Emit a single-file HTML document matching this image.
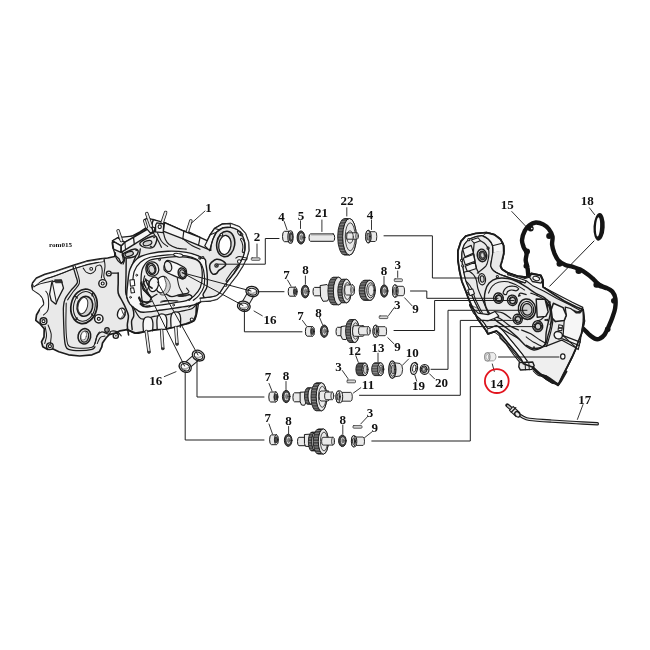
<!DOCTYPE html>
<html><head><meta charset="utf-8"><title>Cam gear exploded view</title>
<style>
html,body{margin:0;padding:0;background:#fff;}
svg{display:block;will-change:transform;}
text{font-family:"Liberation Serif",serif;font-weight:bold;fill:#111;}
</style></head><body>
<svg width="650" height="650" viewBox="0 0 650 650" stroke-linecap="round" stroke-linejoin="round">
<rect width="650" height="650" fill="#fff"/>
<path d="M31.9 285.8 L32.7 282.7 L36.5 278.0 L45.0 274.2 L55.8 271.2 L74.2 265.0 L86.5 261.2 L100.4 258.8 L107.7 258.0 L114.6 256.5 L115.4 252.7 L113.0 248.0 L112.3 242.7 L113.8 240.4 L119.2 238.8 L123.0 239.6 L133.0 235.8 L140.0 232.0 L146.0 228.0 L149.2 225.0 L153.0 219.6 L161.5 223.5 L164.6 222.7 L183.8 231.2 L188.5 232.0 L200.0 237.5 L204.8 245.8 L210.3 234.7 L214.6 228.5 L222.0 224.2 L230.6 223.6 L239.2 226.7 L245.4 233.5 L248.5 242.0 L248.8 250.7 L246.6 258.0 L243.0 265.5 L236.8 275.3 L230.6 283.3 L225.7 290.0 L221.5 295.4 L217.0 299.2 L210.8 300.8 L200.8 301.5 L196.5 305.0 L196.0 314.6 L193.8 320.8 L186.0 323.8 L167.7 328.5 L155.4 329.8 L144.6 331.5 L135.4 333.0 L127.0 329.6 L120.0 330.8 L115.4 333.0 L109.2 334.6 L106.0 338.0 L102.5 343.0 L101.8 346.8 L99.4 351.7 L92.0 354.8 L79.7 356.0 L68.6 354.8 L58.8 351.7 L52.6 348.8 L47.7 349.4 L42.8 346.8 L41.5 341.8 L44.0 337.0 L44.2 328.8 L40.4 324.2 L35.8 320.4 L36.5 315.0 L39.6 309.6 L44.2 304.2 L42.7 298.0 L39.6 294.2 L32.7 289.6Z" fill="#e9e9e9" stroke="#1c1c1c" stroke-width="1.6900000000000002"/>
<path d="M32.7 283.5 L36.5 278.5 L45.0 274.7 L55.8 271.6 L74.2 265.5 L86.5 261.6 L100.4 259.3 L104.2 258.5 L103.8 261.6 L98.5 262.5 L86.5 265.0 L73.9 268.7 L55.8 275.8 L46.5 278.8 L40.4 282.2 L34.5 287.2Z" fill="#fafafa" stroke="#1c1c1c" stroke-width="0.78"/>
<path d="M34.5 286.8 C35.5 286.0 38.4 283.3 40.4 281.9 C42.4 280.5 44.0 279.6 46.5 278.5 C49.1 277.5 51.2 277.2 55.8 275.5 C60.3 273.8 70.9 269.6 73.9 268.4" fill="none" stroke="#1c1c1c" stroke-width="1.04"/>
<path d="M76.5 268.1 C78.2 267.5 82.9 265.7 86.5 264.7 C90.2 263.7 96.5 262.6 98.5 262.2" fill="none" stroke="#1c1c1c" stroke-width="1.04"/>
<path d="M73.0 266.5 C73.5 268.1 75.1 273.1 75.8 275.8 C76.5 278.5 78.1 280.2 77.3 282.7 C76.5 285.2 72.9 287.9 70.8 290.7 C68.8 293.4 66.2 296.5 65.0 299.2 C63.8 301.8 63.7 304.3 63.5 306.5 C63.2 308.7 63.4 309.3 63.4 312.3 C63.4 315.3 63.6 320.5 63.7 324.6 C63.9 328.7 64.0 333.5 64.3 337.0 C64.6 340.5 64.8 343.4 65.5 345.5 C66.2 347.6 66.2 348.5 68.6 349.4 C71.0 350.3 75.8 350.7 79.7 350.7 C83.6 350.7 89.5 350.0 92.0 349.4 C94.5 348.8 94.5 347.2 95.0 346.8" fill="none" stroke="#1c1c1c" stroke-width="1.3"/>
<path d="M66.2 303.0 C66.2 306.6 65.8 318.5 65.9 324.6 C66.0 330.7 66.2 335.8 66.8 339.4 C67.3 343.0 67.0 344.7 69.2 346.2 C71.4 347.7 75.9 348.0 79.7 348.2 C83.5 348.4 89.5 348.1 92.0 347.2 C94.5 346.3 94.2 344.9 95.0 343.0 C95.8 341.1 96.3 337.5 97.0 335.7 C97.7 333.9 99.0 332.6 99.4 332.0" fill="none" stroke="#1c1c1c" stroke-width="1.04"/>
<path d="M75.2 266.1 C75.6 267.6 77.4 272.1 78.1 275.0 C78.8 277.9 80.1 280.7 79.3 283.5 C78.5 286.2 75.3 288.7 73.3 291.5 C71.4 294.2 68.6 298.5 67.6 299.9" fill="none" stroke="#1c1c1c" stroke-width="1.04"/>
<path d="M83.2 268.1 C83.7 268.7 84.9 271.2 86.2 272.1 C87.6 273.0 89.7 273.9 91.2 273.6 C92.6 273.4 94.3 271.7 95.2 270.5 C96.0 269.4 95.2 267.4 96.1 266.5 C96.9 265.7 99.4 264.7 100.4 265.3 C101.4 265.9 102.1 268.3 102.2 270.4 C102.4 272.5 101.5 276.8 101.3 278.1" fill="none" stroke="#1c1c1c" stroke-width="1.04"/>
<path d="M104.2 259.6 C104.4 260.8 105.1 263.8 105.0 266.5 C104.9 269.2 103.8 273.6 103.8 275.8 C103.8 277.9 104.8 279.0 105.0 279.6" fill="none" stroke="#1c1c1c" stroke-width="1.04"/>
<ellipse cx="91.2" cy="268.8" rx="1.4" ry="1.4" fill="#fff" stroke="#1c1c1c" stroke-width="1.04"/>
<ellipse cx="102.7" cy="283.5" rx="3.9" ry="3.9" fill="#f8f8f8" stroke="#1c1c1c" stroke-width="1.4300000000000002"/>
<ellipse cx="102.7" cy="283.5" rx="1.5" ry="1.5" fill="#fff" stroke="#1c1c1c" stroke-width="1.1700000000000002"/>
<ellipse cx="108.8" cy="273.5" rx="2.4" ry="2.4" fill="#f8f8f8" stroke="#1c1c1c" stroke-width="1.4300000000000002"/>
<ellipse cx="108.8" cy="273.5" rx="0.5" ry="0.5" fill="#333" stroke="#1c1c1c" stroke-width="0.39"/>
<ellipse cx="42.0" cy="288.0" rx="3.4" ry="3.4" fill="#f8f8f8" stroke="#1c1c1c" stroke-width="1.4300000000000002"/>
<ellipse cx="42.0" cy="288.0" rx="1.5" ry="1.5" fill="#fff" stroke="#1c1c1c" stroke-width="1.1700000000000002"/>
<ellipse cx="43.5" cy="321.2" rx="3.4" ry="3.4" fill="#f8f8f8" stroke="#1c1c1c" stroke-width="1.4300000000000002"/>
<ellipse cx="43.5" cy="321.2" rx="1.5" ry="1.5" fill="#fff" stroke="#1c1c1c" stroke-width="1.1700000000000002"/>
<ellipse cx="98.8" cy="318.8" rx="4.2" ry="4.2" fill="#f8f8f8" stroke="#1c1c1c" stroke-width="1.4300000000000002"/>
<ellipse cx="98.8" cy="318.8" rx="1.5" ry="1.5" fill="#fff" stroke="#1c1c1c" stroke-width="1.1700000000000002"/>
<ellipse cx="115.8" cy="335.8" rx="2.6" ry="2.6" fill="#f8f8f8" stroke="#1c1c1c" stroke-width="1.4300000000000002"/>
<ellipse cx="115.8" cy="335.8" rx="0.5" ry="0.5" fill="#333" stroke="#1c1c1c" stroke-width="0.39"/>
<ellipse cx="49.9" cy="346.2" rx="3.3" ry="3.3" fill="#f8f8f8" stroke="#1c1c1c" stroke-width="1.4300000000000002"/>
<ellipse cx="49.9" cy="346.2" rx="1.5" ry="1.5" fill="#fff" stroke="#1c1c1c" stroke-width="1.1700000000000002"/>
<ellipse cx="107.0" cy="330.0" rx="2.2" ry="2.2" fill="#f8f8f8" stroke="#1c1c1c" stroke-width="1.4300000000000002"/>
<ellipse cx="107.0" cy="330.0" rx="0.5" ry="0.5" fill="#333" stroke="#1c1c1c" stroke-width="0.39"/>
<ellipse cx="42.0" cy="288.0" rx="1.5" ry="1.6" fill="#444" stroke="#1c1c1c" stroke-width="0.65"/>
<path d="M34.5 287.2 C35.8 286.0 38.1 283.5 40.4 282.5 C42.6 281.6 46.3 281.4 48.1 281.6 C49.8 281.8 50.6 281.7 50.8 283.8 C51.1 285.9 49.5 291.3 49.6 294.2 C49.7 297.1 51.7 298.6 51.5 301.2 C51.2 303.7 49.4 307.3 48.1 309.6 C46.7 311.9 44.8 315.0 43.5 315.0 C42.1 315.0 39.9 311.4 40.1 309.6 C40.2 307.8 43.8 306.2 44.2 304.2 C44.7 302.3 43.5 299.7 42.7 298.1 C41.9 296.4 41.2 295.6 39.6 294.2 C38.0 292.8 33.8 290.8 33.0 289.6 C32.2 288.4 33.3 288.3 34.5 287.2Z" fill="#f5f5f5" stroke="none"/>
<path d="M51.9 281.9 L61.2 280.1 L63.5 288.1 L58.1 298.8 L55.8 304.2 L51.2 300.4 L49.6 294.2Z" fill="#f6f6f6" stroke="#1c1c1c" stroke-width="1.3"/>
<path d="M55.0 279.8 L61.6 279.8 L62.4 282.7 L55.8 282.8Z" fill="#333" stroke="#1c1c1c" stroke-width="0.78"/>
<path d="M52.4 282.7 L56.5 303.2" fill="none" stroke="#1c1c1c" stroke-width="1.04" />
<path d="M34.2 286.5 C35.0 286.2 36.5 285.0 38.8 284.2 C41.2 283.5 45.8 282.5 48.1 281.9 C50.4 281.3 51.9 280.9 52.7 280.7" fill="none" stroke="#1c1c1c" stroke-width="1.04"/>
<path d="M45.8 291.2 C46.2 291.9 47.7 292.7 48.1 295.8 C48.5 298.8 48.8 306.4 48.1 309.6 C47.3 312.8 44.2 314.1 43.5 315.0" fill="none" stroke="#1c1c1c" stroke-width="1.04"/>
<path d="M48.1 325.0 C48.6 326.5 50.8 331.2 51.2 334.2 C51.5 337.3 50.5 341.9 50.4 343.5" fill="none" stroke="#1c1c1c" stroke-width="1.04"/>
<path d="M45.0 326.5 C45.3 328.1 46.6 332.9 46.5 335.8 C46.5 338.6 45.0 342.2 44.7 343.5" fill="none" stroke="#1c1c1c" stroke-width="1.04"/>
<ellipse cx="84.0" cy="306.3" rx="13.0" ry="17.4" fill="#e9e9e9" stroke="#1c1c1c" stroke-width="1.6900000000000002" transform="rotate(12 84.0 306.3)"/>
<ellipse cx="84.3" cy="306.4" rx="10.7" ry="15.0" fill="#e9e9e9" stroke="#1c1c1c" stroke-width="1.04" transform="rotate(12 84.3 306.4)"/>
<path d="M75.8 296.5 L77.2 298.0" fill="none" stroke="#1c1c1c" stroke-width="1.56" />
<path d="M92.5 293.5 L92.2 295.8" fill="none" stroke="#1c1c1c" stroke-width="1.56" />
<path d="M92.8 315.5 L91.6 314.0" fill="none" stroke="#1c1c1c" stroke-width="1.56" />
<path d="M76.0 319.5 L77.0 318.0" fill="none" stroke="#1c1c1c" stroke-width="1.56" />
<ellipse cx="84.9" cy="306.3" rx="7.7" ry="10.1" fill="#d2d2d2" stroke="#1c1c1c" stroke-width="1.56" transform="rotate(12 84.9 306.3)"/>
<ellipse cx="82.9" cy="305.6" rx="4.7" ry="8.3" fill="#fff" stroke="#333" stroke-width="1.04" transform="rotate(14 82.9 305.6)"/>
<ellipse cx="84.4" cy="336.3" rx="6.3" ry="7.7" fill="#e9e9e9" stroke="#1c1c1c" stroke-width="1.56" transform="rotate(12 84.4 336.3)"/>
<ellipse cx="84.7" cy="336.6" rx="3.9" ry="5.6" fill="#d2d2d2" stroke="#1c1c1c" stroke-width="1.3" transform="rotate(12 84.7 336.6)"/>
<ellipse cx="83.7" cy="335.8" rx="2.7" ry="4.4" fill="#fff" stroke="#555" stroke-width="0.65" transform="rotate(12 83.7 335.8)"/>
<path d="M95.0 343.5 C95.4 342.2 96.2 337.7 97.3 335.8 C98.5 333.8 100.0 332.2 101.9 331.9 C103.8 331.7 107.3 334.4 108.8 334.2 C110.4 334.1 109.7 331.5 111.2 331.2 C112.6 330.8 115.6 331.2 117.3 331.9 C119.0 332.7 120.5 335.1 121.2 335.8" fill="none" stroke="#1c1c1c" stroke-width="1.1700000000000002"/>
<path d="M97.3 343.5 C97.8 342.4 99.1 338.5 100.4 337.3 C101.7 336.1 104.2 336.3 105.0 336.1" fill="none" stroke="#1c1c1c" stroke-width="1.04"/>
<ellipse cx="121.4" cy="313.5" rx="3.8" ry="5.4" fill="#fff" stroke="#1c1c1c" stroke-width="1.4300000000000002" transform="rotate(15 121.4 313.5)"/>
<path d="M120.5 318.6 Q124.8 317.5 125 311.5 Q123.5 315.5 120.5 318.6Z" fill="#c8c8c8" stroke="#333" stroke-width="0.6"/>
<path d="M121.6 309.6 C121.9 310.4 122.9 313.3 123.5 314.2 C124.0 315.1 124.7 314.9 125.0 315.0" fill="none" stroke="#1c1c1c" stroke-width="0.9099999999999999"/>
<path d="M112.2 273.1 L118.2 273.1" fill="none" stroke="#1c1c1c" stroke-width="1.3" />
<path d="M118.2 273.1 C118.2 274.8 118.2 280.0 118.2 283.3 C118.2 286.6 117.5 290.1 118.2 293.0 C118.8 295.9 120.8 298.2 121.9 300.5 C123.1 302.9 124.1 304.5 125.2 307.0 C126.2 309.5 128.0 312.6 128.4 315.6 C128.7 318.7 127.3 322.1 127.3 325.3 C127.3 328.5 128.4 333.4 128.6 335.0" fill="none" stroke="#1c1c1c" stroke-width="1.56"/>
<path d="M126.2 256.4 C126.2 259.6 126.1 269.8 126.0 275.8 C125.9 281.7 125.5 288.5 125.7 291.9 C125.9 295.3 126.1 293.5 127.3 296.2 C128.5 298.9 131.6 304.8 132.7 308.1 C133.8 311.3 133.9 313.5 133.8 315.6 C133.6 317.8 131.9 318.7 131.6 321.0 C131.3 323.3 132.1 328.2 132.2 329.6" fill="none" stroke="#1c1c1c" stroke-width="1.4300000000000002"/>
<path d="M126.8 293.5 C127.4 293.0 129.4 293.4 130.5 294.1 C131.7 294.7 133.4 296.2 133.8 297.3 C134.1 298.4 133.5 300.0 132.7 300.5 C131.9 301.1 129.9 301.1 128.9 300.5 C127.9 300.0 127.1 298.5 126.8 297.3 C126.4 296.1 126.1 294.1 126.8 293.5Z" fill="#e9e9e9" stroke="#1c1c1c" stroke-width="1.3"/>
<ellipse cx="130.5" cy="297.3" rx="1.3" ry="1.3" fill="#fff" stroke="#1c1c1c" stroke-width="1.1700000000000002"/>
<ellipse cx="127.3" cy="294.3" rx="1.0" ry="1.0" fill="#222" stroke="#1c1c1c" stroke-width="0.39"/>
<path d="M112.5 240.8 L113.6 249.2 L115.2 255.6 L119.0 258.8 L121.2 263.7 L123.5 261.0 L122.2 252.6 L121.2 245.9Z" fill="#e9e9e9" stroke="#1c1c1c" stroke-width="1.3"/>
<path d="M112.5 240.8 L117.7 237.6 L124.9 242.2 L121.2 245.9Z" fill="#f7f7f7" stroke="#1c1c1c" stroke-width="1.3"/>
<path d="M112.5 241.0 L121.2 245.9 L120.9 252.4 L113.6 249.2Z" fill="#f7f7f7" stroke="#1c1c1c" stroke-width="1.3"/>
<path d="M117.7 237.6 L131.9 236.2 L141.6 232.5 L151.3 226.1 L155.6 224.9 L152.4 226.5 L133.5 237.3 L124.9 242.2Z" fill="#f7f7f7" stroke="#1c1c1c" stroke-width="1.1700000000000002"/>
<path d="M124.9 242.2 L133.5 237.3 L152.4 226.5 L155.6 224.9 L154.3 231.9 L151.3 233.5 L134.1 244.3 L121.2 252.4 L121.2 245.9Z" fill="#f7f7f7" stroke="#1c1c1c" stroke-width="1.4300000000000002"/>
<path d="M133.5 237.3 L134.3 244.2" fill="none" stroke="#1c1c1c" stroke-width="1.3" />
<path d="M150.8 227.6 L152.9 233.0" fill="none" stroke="#1c1c1c" stroke-width="1.3" />
<path d="M124.9 242.2 L125.5 249.7" fill="none" stroke="#1c1c1c" stroke-width="1.04" />
<path d="M153.1 219.6 L164.6 222.7 L183.8 231.2 L200.0 237.3 L210.8 242.4 L210.8 250.4 L200.0 245.8 L183.1 238.8 L163.1 231.2 L151.5 226.5Z" fill="#f7f7f7" stroke="#1c1c1c" stroke-width="1.3"/>
<path d="M164.6 222.7 L163.4 231.3" fill="none" stroke="#1c1c1c" stroke-width="1.1700000000000002" />
<path d="M183.8 231.2 L182.8 238.8" fill="none" stroke="#1c1c1c" stroke-width="1.1700000000000002" />
<path d="M200.0 237.5 L198.5 245.3" fill="none" stroke="#1c1c1c" stroke-width="1.1700000000000002" />
<path d="M144.3 219.6 L147.7 218.1 L153.1 219.6 L151.5 226.5 L153.1 231.2 L150.8 233.5 L146.2 228.1Z" fill="#e9e9e9" stroke="#1c1c1c" stroke-width="1.1700000000000002"/>
<path d="M151.5 226.5 C151.9 227.7 152.7 231.0 153.8 233.5 C155.0 235.9 157.2 238.8 158.5 241.2 C159.7 243.5 161.0 246.3 161.5 247.3" fill="none" stroke="#1c1c1c" stroke-width="1.1700000000000002"/>
<path d="M163.1 231.2 C163.5 232.6 164.4 237.4 165.4 239.6 C166.4 241.8 167.3 243.1 169.2 244.5 C171.2 245.9 174.1 247.3 176.9 248.1 C179.7 248.8 184.6 249.0 186.2 249.2" fill="none" stroke="#1c1c1c" stroke-width="1.1700000000000002"/>
<path d="M183.1 238.8 C184.6 240.0 189.5 244.1 192.3 245.8 C195.1 247.5 198.7 248.6 200.0 249.2" fill="none" stroke="#1c1c1c" stroke-width="1.1700000000000002"/>
<path d="M155.4 228.1 C156.4 230.3 159.5 238.1 161.5 241.2 C163.6 244.2 166.7 245.6 167.7 246.5" fill="none" stroke="#1c1c1c" stroke-width="1.04"/>
<path d="M140.5 242.2 C142.2 240.4 149.8 237.1 152.4 236.2 C155.0 235.3 155.4 236.1 156.2 236.8 C156.9 237.5 157.1 238.9 156.7 240.5 C156.3 242.2 155.1 245.2 154.0 246.5 C152.9 247.7 152.2 248.1 150.2 248.1 C148.3 248.1 143.8 247.4 142.2 246.5 C140.5 245.5 138.8 243.9 140.5 242.2Z" fill="#e9e9e9" stroke="#1c1c1c" stroke-width="1.4300000000000002"/>
<ellipse cx="147.5" cy="243.2" rx="4.5" ry="2.4" fill="#d2d2d2" stroke="#1c1c1c" stroke-width="1.1700000000000002" transform="rotate(-16 147.5 243.2)"/>
<path d="M122.8 254.0 C124.1 252.6 131.0 249.8 133.5 249.2 C136.1 248.5 137.2 249.4 137.8 250.2 C138.5 251.0 137.9 252.9 137.3 254.0 C136.7 255.1 136.1 256.1 134.1 256.7 C132.1 257.3 127.3 258.2 125.5 257.8 C123.6 257.3 121.4 255.4 122.8 254.0Z" fill="#e9e9e9" stroke="#1c1c1c" stroke-width="1.4300000000000002"/>
<ellipse cx="129.2" cy="254.0" rx="4.3" ry="2.2" fill="#d2d2d2" stroke="#1c1c1c" stroke-width="1.1700000000000002" transform="rotate(-16 129.2 254.0)"/>
<ellipse cx="154.0" cy="237.5" rx="0.7" ry="0.7" fill="#222" stroke="#1c1c1c" stroke-width="0.39"/>
<ellipse cx="150.8" cy="246.5" rx="0.7" ry="0.7" fill="#222" stroke="#1c1c1c" stroke-width="0.39"/>
<ellipse cx="136.2" cy="250.2" rx="0.7" ry="0.7" fill="#222" stroke="#1c1c1c" stroke-width="0.39"/>
<path d="M115.4 252.7 C115.5 253.6 115.4 256.4 116.2 258.1 C116.9 259.7 118.8 262.1 120.0 262.7 C121.2 263.3 122.6 262.1 123.1 261.9" fill="none" stroke="#1c1c1c" stroke-width="1.1700000000000002"/>
<path d="M123.1 254.2 C123.3 255.1 124.6 257.9 124.6 259.6 C124.6 261.3 123.3 263.5 123.1 264.2" fill="none" stroke="#1c1c1c" stroke-width="1.1700000000000002"/>
<path d="M135.7 256.5 C135.3 257.6 134.0 260.1 133.1 262.7 C132.1 265.3 130.6 268.8 130.0 271.9 C129.4 275.0 129.1 278.6 129.2 281.2 C129.4 283.7 130.5 286.3 130.8 287.3" fill="none" stroke="#1c1c1c" stroke-width="1.3"/>
<path d="M140.3 248.8 C140.1 249.9 139.9 252.7 139.2 255.0 C138.5 257.3 137.0 259.4 136.2 262.7 C135.3 266.0 134.4 271.2 134.2 275.0 C133.9 278.8 134.5 284.0 134.6 285.8" fill="none" stroke="#1c1c1c" stroke-width="1.3"/>
<path d="M118.1 230.8 L121.4 240.5" stroke="#1c1c1c" stroke-width="3.5" stroke-linecap="round" fill="none"/>
<path d="M118.1 230.8 L121.4 240.5" stroke="#e9e9e9" stroke-width="1.9" stroke-linecap="round" fill="none"/>
<path d="M146.8 213.6 L151.1 226.0" stroke="#1c1c1c" stroke-width="3.5" stroke-linecap="round" fill="none"/>
<path d="M146.8 213.6 L151.1 226.0" stroke="#e9e9e9" stroke-width="1.9" stroke-linecap="round" fill="none"/>
<path d="M165.6 212.5 L162.3 222.2" stroke="#1c1c1c" stroke-width="3.5" stroke-linecap="round" fill="none"/>
<path d="M165.6 212.5 L162.3 222.2" stroke="#e9e9e9" stroke-width="1.9" stroke-linecap="round" fill="none"/>
<path d="M190.8 221.0 L187.6 231.0" stroke="#1c1c1c" stroke-width="3.5" stroke-linecap="round" fill="none"/>
<path d="M190.8 221.0 L187.6 231.0" stroke="#e9e9e9" stroke-width="1.9" stroke-linecap="round" fill="none"/>
<path d="M144.5 220.6 L146.5 227.1" stroke="#1c1c1c" stroke-width="3.0" stroke-linecap="round" fill="none"/>
<path d="M144.5 220.6 L146.5 227.1" stroke="#e9e9e9" stroke-width="1.4" stroke-linecap="round" fill="none"/>
<path d="M155.6 225.0 L156.9 222.9 L163.7 224.0 L163.2 232.6 L155.6 231.9Z" fill="#f7f7f7" stroke="#1c1c1c" stroke-width="1.3"/>
<ellipse cx="159.7" cy="226.8" rx="1.6" ry="1.9" fill="#fff" stroke="#1c1c1c" stroke-width="1.1700000000000002"/>
<path d="M127.5 285.6 C128.0 281.1 128.3 274.1 129.9 269.6 C131.6 265.1 134.0 261.2 137.3 258.5 C140.6 255.9 144.5 254.8 149.6 253.6 C154.7 252.4 161.9 251.4 168.1 251.2 C174.2 250.9 181.4 251.6 186.5 252.4 C191.7 253.2 195.8 254.9 198.8 256.1 C201.9 257.2 203.8 257.9 205.0 259.2 C206.2 260.4 205.5 261.3 205.8 263.8 C206.2 266.4 207.1 270.8 207.2 274.6 C207.4 278.5 207.6 283.6 206.9 286.9 C206.2 290.2 203.6 292.3 203.1 294.3 C202.6 296.3 205.3 297.4 203.8 299.2 C202.2 300.9 197.8 303.6 193.9 304.9 C190.0 306.3 185.7 306.3 180.4 307.2 C175.1 308.0 168.1 309.1 161.9 310.0 C155.8 310.8 147.6 312.3 143.5 312.3 C139.4 312.4 139.6 311.6 137.3 310.2 C135.1 308.9 131.7 306.3 129.9 304.1 C128.2 301.8 127.3 299.8 126.8 296.7 C126.4 293.6 126.9 290.1 127.5 285.6Z" fill="#f8f8f8" stroke="#1c1c1c" stroke-width="1.4300000000000002"/>
<path d="M132.4 285.6 C132.7 283.3 132.9 275.4 134.2 271.5 C135.6 267.6 137.7 264.6 140.4 262.2 C143.1 259.9 145.6 258.5 150.2 257.3 C154.8 256.1 162.1 255.1 168.1 254.8 C174.0 254.6 181.1 255.1 185.9 255.8 C190.7 256.6 194.3 257.9 197.0 259.5 C199.7 261.1 200.7 262.6 201.9 265.3 C203.2 268.0 204.1 272.2 204.4 275.8 C204.7 279.4 204.7 283.6 203.8 286.8 C202.8 290.1 200.6 293.2 198.8 295.5 C197.1 297.7 194.2 299.6 193.3 300.4" fill="none" stroke="#1c1c1c" stroke-width="1.1700000000000002"/>
<path d="M141.0 281.9 C141.1 277.4 141.0 273.1 142.2 269.6 C143.5 266.1 145.5 262.9 148.4 261.0 C151.3 259.1 154.7 259.0 159.5 258.3 C164.2 257.6 170.9 256.6 176.7 256.7 C182.4 256.8 190.0 257.7 193.9 258.8 C197.9 259.9 198.9 260.6 200.3 263.5 C201.7 266.3 202.3 271.8 202.3 275.8 C202.3 279.8 201.7 284.1 200.3 287.5 C198.9 290.8 196.2 293.9 193.9 296.1 C191.6 298.3 189.8 299.5 186.5 300.6 C183.3 301.8 179.4 302.0 174.2 302.8 C169.1 303.7 160.7 304.9 155.8 305.6 C150.8 306.2 147.1 308.0 144.7 306.5 C142.3 305.1 142.2 300.8 141.6 296.7 C141.0 292.6 140.9 286.4 141.0 281.9Z" fill="#ececec" stroke="#1c1c1c" stroke-width="1.3"/>
<ellipse cx="136.7" cy="275.2" rx="0.9" ry="0.9" fill="#fff" stroke="#1c1c1c" stroke-width="0.9099999999999999"/>
<ellipse cx="159.5" cy="259.8" rx="0.9" ry="0.9" fill="#fff" stroke="#1c1c1c" stroke-width="0.9099999999999999"/>
<ellipse cx="176.7" cy="254.6" rx="0.9" ry="0.9" fill="#fff" stroke="#1c1c1c" stroke-width="0.9099999999999999"/>
<ellipse cx="200.1" cy="258.3" rx="0.9" ry="0.9" fill="#fff" stroke="#1c1c1c" stroke-width="0.9099999999999999"/>
<ellipse cx="130.5" cy="297.3" rx="0.9" ry="0.9" fill="#fff" stroke="#1c1c1c" stroke-width="0.9099999999999999"/>
<ellipse cx="173.6" cy="305.1" rx="0.9" ry="0.9" fill="#fff" stroke="#1c1c1c" stroke-width="0.9099999999999999"/>
<ellipse cx="189.0" cy="306.5" rx="0.9" ry="0.9" fill="#fff" stroke="#1c1c1c" stroke-width="0.9099999999999999"/>
<ellipse cx="201.9" cy="299.2" rx="0.9" ry="0.9" fill="#fff" stroke="#1c1c1c" stroke-width="0.9099999999999999"/>
<path d="M173.6 254.2 C173.9 253.7 176.4 253.2 177.9 253.4 C179.5 253.5 182.3 254.5 182.8 255.1 C183.4 255.7 182.1 256.9 181.0 257.1 C179.9 257.3 177.3 256.8 176.1 256.3 C174.8 255.9 173.3 254.7 173.6 254.2Z" fill="#fff" stroke="#1c1c1c" stroke-width="1.04"/>
<path d="M129.9 280.1 L134.2 279.5 L134.8 285.6 L130.5 286.2Z" fill="#fff" stroke="#1c1c1c" stroke-width="1.04"/>
<path d="M130.5 288.1 L133.6 287.8 L134.6 292.4 L131.2 293.0Z" fill="#fff" stroke="#1c1c1c" stroke-width="1.04"/>
<path d="M166.2 261.2 C167.2 260.3 166.9 259.8 169.9 260.8 C172.9 261.7 181.3 265.4 184.1 267.2 C186.8 268.9 186.3 269.8 186.5 271.5 C186.8 273.1 186.5 276.1 185.6 277.2 C184.6 278.4 184.3 279.4 181.0 278.5 C177.7 277.5 168.4 273.5 165.6 271.5 C162.8 269.5 164.0 268.2 164.1 266.5 C164.2 264.8 165.3 262.2 166.2 261.2Z" fill="#f7f7f7" stroke="#1c1c1c" stroke-width="1.3"/>
<ellipse cx="168.1" cy="266.5" rx="3.5" ry="5.2" fill="#e9e9e9" stroke="#1c1c1c" stroke-width="1.3" transform="rotate(-15 168.1 266.5)"/>
<ellipse cx="182.2" cy="273.3" rx="3.9" ry="5.4" fill="#e9e9e9" stroke="#1c1c1c" stroke-width="1.56" transform="rotate(-15 182.2 273.3)"/>
<ellipse cx="182.5" cy="273.6" rx="2.6" ry="3.9" fill="#cfcfcf" stroke="#1c1c1c" stroke-width="1.04" transform="rotate(-15 182.5 273.6)"/>
<path d="M147.8 263.5 C149.1 262.2 152.2 261.7 153.9 262.2 C155.7 262.7 157.6 264.8 158.2 266.5 C158.9 268.3 158.7 271.2 158.0 272.7 C157.3 274.2 155.5 275.4 153.9 275.8 C152.3 276.2 149.7 276.2 148.4 275.2 C147.1 274.1 146.0 271.6 145.9 269.6 C145.8 267.7 146.4 264.7 147.8 263.5Z" fill="#f7f7f7" stroke="#1c1c1c" stroke-width="1.3"/>
<ellipse cx="151.5" cy="269.0" rx="4.3" ry="5.6" fill="#e9e9e9" stroke="#1c1c1c" stroke-width="1.4300000000000002" transform="rotate(-15 151.5 269.0)"/>
<ellipse cx="151.8" cy="269.4" rx="2.9" ry="4.1" fill="#d8d8d8" stroke="#1c1c1c" stroke-width="1.04" transform="rotate(-15 151.8 269.4)"/>
<ellipse cx="161.9" cy="284.6" rx="6.0" ry="8.4" fill="#fff" stroke="#1c1c1c" stroke-width="1.3" transform="rotate(14 161.9 284.6)"/>
<path d="M164.4 277.2 C164.7 276.5 167.3 278.7 168.3 280.1 C169.3 281.5 170.2 283.8 170.3 285.6 C170.4 287.5 169.6 289.6 168.7 291.2 C167.8 292.7 166.4 294.3 165.0 294.8 C163.6 295.4 160.2 294.9 160.1 294.2 C160.0 293.5 163.4 292.2 164.4 290.5 C165.4 288.9 166.2 286.6 166.2 284.4 C166.2 282.2 164.0 278.0 164.4 277.2Z" fill="#cfcfcf" stroke="#333" stroke-width="0.8"/>
<ellipse cx="153.6" cy="284.4" rx="4.8" ry="7.4" fill="#f4f4f4" stroke="#1c1c1c" stroke-width="1.3" transform="rotate(14 153.6 284.4)"/>
<ellipse cx="145.9" cy="285.6" rx="3.0" ry="5.5" fill="none" stroke="#1c1c1c" stroke-width="1.1700000000000002" transform="rotate(14 145.9 285.6)"/>
<path d="M141.6 281.9 C141.9 283.2 142.4 287.3 143.5 289.3 C144.5 291.4 146.4 292.8 147.8 294.2 C149.1 295.7 150.8 297.3 151.5 297.9" fill="none" stroke="#1c1c1c" stroke-width="1.1700000000000002"/>
<path d="M138.5 297.9 C139.2 298.9 140.6 303.3 142.2 304.1 C143.9 304.9 146.8 303.9 148.4 302.8 C149.9 301.8 150.0 299.4 151.5 297.9 C152.9 296.5 156.1 294.8 157.0 294.2" fill="none" stroke="#1c1c1c" stroke-width="1.1700000000000002"/>
<path d="M166.2 294.2 C167.2 294.6 169.6 296.6 171.8 296.7 C173.9 296.8 176.7 295.4 179.2 294.8 C181.6 294.3 184.4 293.3 186.5 293.6 C188.7 293.9 191.7 295.6 192.1 296.7 C192.5 297.8 189.5 299.8 189.0 300.4" fill="none" stroke="#1c1c1c" stroke-width="1.3"/>
<path d="M160.7 302.2 C161.9 302.0 165.2 300.8 168.1 300.6 C170.9 300.4 176.3 300.9 177.9 301.0" fill="none" stroke="#1c1c1c" stroke-width="1.1700000000000002"/>
<path d="M186.5 288.1 C186.9 288.7 189.0 290.8 189.0 291.8 C189.0 292.7 186.9 293.3 186.5 293.6" fill="none" stroke="#1c1c1c" stroke-width="1.04"/>
<path d="M177.3 278.2 C177.6 279.7 178.2 284.3 179.2 286.8 C180.1 289.4 182.2 292.5 182.8 293.6" fill="none" stroke="#1c1c1c" stroke-width="1.04"/>
<path d="M144.7 275.8 C144.5 276.8 143.3 280.0 143.5 281.9 C143.7 283.9 145.5 286.5 145.9 287.5" fill="none" stroke="#1c1c1c" stroke-width="1.1700000000000002"/>
<path d="M141.3 283.3 C141.7 284.1 142.6 286.6 143.5 288.2 C144.4 289.7 145.4 290.9 146.7 292.5 C147.9 294.0 150.3 296.5 151.0 297.3" fill="none" stroke="#1c1c1c" stroke-width="2.08"/>
<path d="M139.2 297.3 C139.5 297.9 140.2 300.3 141.3 301.1 C142.4 301.9 144.0 302.1 145.6 302.2 C147.2 302.2 150.1 301.5 151.0 301.4" fill="none" stroke="#1c1c1c" stroke-width="1.8199999999999998"/>
<path d="M140.2 303.8 C140.9 304.2 142.4 306.1 144.0 306.5 C145.6 306.8 148.9 306.0 149.9 305.9" fill="none" stroke="#1c1c1c" stroke-width="1.56"/>
<path d="M145.6 279.0 C146.0 280.0 146.7 283.4 147.8 284.9 C148.8 286.4 151.4 287.6 152.1 288.2" fill="none" stroke="#1c1c1c" stroke-width="1.56"/>
<path d="M176.7 295.2 C177.3 294.7 180.8 294.0 182.8 294.0 C184.9 294.0 188.8 294.8 189.0 295.2 C189.2 295.7 185.7 296.4 184.1 296.7 C182.4 297.0 180.4 297.2 179.2 296.9 C177.9 296.7 176.1 295.7 176.7 295.2Z" fill="#2a2a2a" stroke="none"/>
<path d="M160.7 301.0 C160.9 300.7 164.2 300.1 165.6 300.0 C167.1 300.0 169.5 300.3 169.3 300.6 C169.1 300.9 165.8 301.8 164.4 301.9 C162.9 301.9 160.5 301.3 160.7 301.0Z" fill="#2a2a2a" stroke="none"/>
<path d="M142.2 286.8 C142.4 286.5 144.0 287.8 144.7 288.7 C145.4 289.6 146.7 292.1 146.5 292.4 C146.3 292.7 144.2 291.5 143.5 290.5 C142.7 289.6 142.0 287.2 142.2 286.8Z" fill="#2a2a2a" stroke="none"/>
<path d="M204.8 245.8 L210.3 234.7 L214.6 228.5 L222.0 224.2 L230.6 223.6 L230.6 227.3 L222.6 227.9 L216.5 232.2 L212.8 239.6 L209.7 250.7Z" fill="#f7f7f7" stroke="#1c1c1c" stroke-width="1.1700000000000002"/>
<path d="M230.6 223.6 L239.2 226.7 L245.4 233.5 L248.5 242.0 L248.8 250.7 L246.6 258.0 L243.0 265.5 L236.8 275.3 L230.6 283.3 L225.7 290.0 L221.5 295.4 L217.0 299.2 L210.8 300.8 L200.8 301.5 L200.0 298.2 L210.0 297.2 L216.2 295.7 L219.5 293.2 L223.2 287.6 L228.2 280.8 L233.7 273.5 L239.2 264.2 L242.9 257.5 L244.8 250.7 L244.8 242.7 L242.3 235.3 L237.4 229.8 L230.6 227.3Z" fill="#f9f9f9" stroke="#1c1c1c" stroke-width="0.65"/>
<path d="M209.7 250.7 C210.2 248.8 211.6 242.7 212.8 239.6 C213.9 236.5 214.8 234.2 216.5 232.2 C218.1 230.3 220.3 228.7 222.6 227.9 C225.0 227.1 228.2 227.0 230.6 227.3 C233.1 227.6 235.4 228.4 237.4 229.8 C239.3 231.1 241.1 233.2 242.3 235.3 C243.5 237.5 244.4 240.1 244.8 242.7 C245.2 245.3 245.1 248.2 244.8 250.7 C244.5 253.2 243.8 255.2 242.9 257.5 C242.0 259.7 240.8 261.6 239.2 264.2 C237.7 266.9 235.5 270.7 233.7 273.5 C231.8 276.2 229.9 278.5 228.2 280.8 C226.4 283.2 224.7 285.6 223.2 287.6 C221.8 289.7 220.7 291.8 219.5 293.2 C218.4 294.5 217.7 295.0 216.2 295.7 C214.6 296.4 212.7 296.8 210.0 297.2 C207.3 297.6 201.7 298.0 200.0 298.2" fill="none" stroke="#1c1c1c" stroke-width="1.1700000000000002"/>
<path d="M210.3 234.7 L216.5 232.2" fill="none" stroke="#1c1c1c" stroke-width="1.04" />
<path d="M214.6 228.5 L219.5 229.8" fill="none" stroke="#1c1c1c" stroke-width="1.04" />
<ellipse cx="225.7" cy="244.0" rx="9.0" ry="12.8" fill="#d6d6d6" stroke="#1c1c1c" stroke-width="1.56" transform="rotate(8 225.7 244.0)"/>
<ellipse cx="224.9" cy="245.0" rx="6.1" ry="9.6" fill="#fff" stroke="#1c1c1c" stroke-width="1.3" transform="rotate(8 224.9 245.0)"/>
<ellipse cx="221.4" cy="234.7" rx="1.3" ry="1.3" fill="#fff" stroke="#1c1c1c" stroke-width="1.04"/>
<ellipse cx="241.7" cy="234.7" rx="1.2" ry="1.2" fill="#fff" stroke="#1c1c1c" stroke-width="1.04"/>
<ellipse cx="239.2" cy="261.5" rx="1.7" ry="1.7" fill="#fff" stroke="#1c1c1c" stroke-width="1.04"/>
<ellipse cx="225.7" cy="285.2" rx="1.1" ry="1.1" fill="#fff" stroke="#1c1c1c" stroke-width="1.04"/>
<ellipse cx="202.9" cy="257.5" rx="1.0" ry="1.0" fill="#fff" stroke="#1c1c1c" stroke-width="1.04"/>
<ellipse cx="199.8" cy="258.1" rx="1.0" ry="1.0" fill="#fff" stroke="#1c1c1c" stroke-width="1.04"/>
<path d="M237.4 231.0 C237.8 230.7 239.7 231.0 240.5 231.6 C241.2 232.2 242.0 234.1 241.9 234.7 C241.8 235.3 240.5 235.5 239.8 235.3 C239.2 235.1 238.7 234.2 238.2 233.5 C237.8 232.7 237.0 231.3 237.4 231.0Z" fill="none" stroke="#1c1c1c" stroke-width="1.04"/>
<path d="M241.7 238.4 C242.3 238.7 243.6 240.0 244.2 241.5 C244.7 242.9 245.0 245.3 245.0 247.0 C245.0 248.7 244.6 251.1 244.2 251.9 C243.7 252.7 242.5 252.7 242.3 251.9 C242.1 251.1 243.0 248.6 242.9 247.0 C242.9 245.4 242.3 243.3 241.9 242.1 C241.5 240.8 240.5 240.2 240.5 239.6 C240.4 239.0 241.1 238.1 241.7 238.4Z" fill="none" stroke="#1c1c1c" stroke-width="1.04"/>
<path d="M237.4 265.7 C239.4 263.6 240.5 264.3 239.0 266.7 C237.5 269.1 230.5 278.1 228.4 280.2 C226.3 282.3 225.2 281.7 226.7 279.2 C228.2 276.8 235.3 267.8 237.4 265.7Z" fill="none" stroke="#1c1c1c" stroke-width="1.04"/>
<path d="M235.8 258.1 C236.4 257.8 237.8 256.7 239.2 256.6 C240.6 256.5 242.9 257.2 244.2 257.5 C245.4 257.7 246.6 257.9 246.9 258.3 C247.2 258.7 246.9 259.8 246.0 259.9 C245.1 260.1 242.4 259.4 241.7 259.3" fill="none" stroke="#1c1c1c" stroke-width="1.04"/>
<path d="M211.5 262.4 C212.7 261.4 214.5 259.5 216.5 259.3 C218.4 259.1 221.7 260.2 223.2 261.2 C224.8 262.1 225.8 263.7 225.7 264.8 C225.6 266.0 223.7 267.0 222.6 267.9 C221.5 268.8 219.9 269.5 218.9 270.4 C217.9 271.3 217.5 272.8 216.5 273.5 C215.4 274.1 213.8 274.6 212.8 274.1 C211.7 273.6 210.8 271.8 210.3 270.4 C209.8 268.9 209.5 266.8 209.7 265.5 C209.9 264.1 210.4 263.4 211.5 262.4Z" fill="#e9e9e9" stroke="#1c1c1c" stroke-width="1.56"/>
<ellipse cx="216.5" cy="265.5" rx="1.7" ry="1.7" fill="#fff" stroke="#1c1c1c" stroke-width="1.1700000000000002"/>
<ellipse cx="216.5" cy="265.5" rx="0.7" ry="0.7" fill="#444" stroke="#1c1c1c" stroke-width="0.39"/>
<path d="M133.1 306.9 C134.0 308.5 136.8 314.1 138.5 316.2 C140.1 318.2 140.3 319.2 143.1 319.2 C145.9 319.2 151.3 316.9 155.4 316.2 C159.5 315.4 163.6 315.4 167.7 314.6 C171.8 313.8 175.9 312.6 180.0 311.5 C184.1 310.5 189.5 309.9 192.3 308.5 C195.1 307.1 196.2 304.0 196.9 303.1" fill="none" stroke="#1c1c1c" stroke-width="1.1700000000000002"/>
<path d="M143.4 330.8 C143.3 329.5 142.9 325.2 143.1 323.1 C143.3 321.0 143.8 319.2 144.6 318.2 C145.4 317.1 146.9 316.9 148.0 316.9 C149.1 316.9 150.6 317.1 151.4 318.2 C152.2 319.2 152.7 321.0 152.9 323.1 C153.1 325.2 152.7 329.5 152.6 330.8" fill="#f7f7f7" stroke="#1c1c1c" stroke-width="1.3"/>
<path d="M157.2 329.2 C157.2 327.7 156.7 322.4 156.9 320.0 C157.1 317.6 157.6 316.1 158.5 315.1 C159.3 314.1 160.7 313.8 161.8 313.8 C163.0 313.8 164.4 314.1 165.2 315.1 C166.1 316.1 166.6 317.6 166.8 320.0 C167.0 322.4 166.5 327.7 166.5 329.2" fill="#f7f7f7" stroke="#1c1c1c" stroke-width="1.3"/>
<path d="M171.1 327.2 C171.0 325.7 170.6 320.4 170.8 318.0 C171.0 315.6 171.5 314.1 172.3 313.1 C173.1 312.1 174.6 311.8 175.7 311.8 C176.8 311.8 178.3 312.1 179.1 313.1 C179.9 314.1 180.4 315.6 180.6 318.0 C180.8 320.4 180.4 325.7 180.3 327.2" fill="#f7f7f7" stroke="#1c1c1c" stroke-width="1.3"/>
<path d="M126.9 329.2 C128.3 329.9 132.4 332.9 135.4 333.4 C138.3 333.8 141.3 332.5 144.6 331.8 C147.9 331.2 151.5 330.2 155.4 329.7 C159.2 329.2 162.6 329.7 167.7 328.8 C172.8 327.8 181.8 325.4 186.2 324.2 C190.5 322.9 192.1 322.7 193.8 321.1 C195.6 319.5 195.8 317.6 196.6 314.6 C197.4 311.6 198.2 305.0 198.5 303.1" fill="none" stroke="#1c1c1c" stroke-width="1.3"/>
<ellipse cx="191.8" cy="319.5" rx="1.6" ry="1.6" fill="#fff" stroke="#1c1c1c" stroke-width="1.04"/>
<path d="M146.3 331.5 L149.0 352.0" stroke="#1c1c1c" stroke-width="3.4000000000000004" stroke-linecap="round" fill="none"/>
<path d="M146.3 331.5 L149.0 352.0" stroke="#e9e9e9" stroke-width="1.8" stroke-linecap="round" fill="none"/>
<path d="M161.6 330.5 L162.8 348.5" stroke="#1c1c1c" stroke-width="3.4000000000000004" stroke-linecap="round" fill="none"/>
<path d="M161.6 330.5 L162.8 348.5" stroke="#e9e9e9" stroke-width="1.8" stroke-linecap="round" fill="none"/>
<path d="M175.8 327.5 L177.0 344.0" stroke="#1c1c1c" stroke-width="3.4000000000000004" stroke-linecap="round" fill="none"/>
<path d="M175.8 327.5 L177.0 344.0" stroke="#e9e9e9" stroke-width="1.8" stroke-linecap="round" fill="none"/>
<ellipse cx="149.0" cy="352.0" rx="1.2" ry="1.0" fill="#333" stroke="#1c1c1c" stroke-width="0.39"/>
<ellipse cx="162.8" cy="348.5" rx="1.2" ry="1.0" fill="#333" stroke="#1c1c1c" stroke-width="0.39"/>
<ellipse cx="177.0" cy="344.0" rx="1.2" ry="1.0" fill="#333" stroke="#1c1c1c" stroke-width="0.39"/>
<path d="M528.5 277.9 C528.3 276.2 528.0 270.7 527.5 267.8 C527.1 264.8 525.8 262.8 525.7 260.4 C525.5 257.9 526.9 255.2 526.6 253.0 C526.3 250.8 524.6 249.6 523.8 247.5 C523.1 245.3 521.8 242.8 522.0 240.1 C522.2 237.3 523.5 233.3 524.8 230.8 C526.0 228.4 527.5 226.7 529.4 225.3 C531.2 223.9 533.5 222.7 535.8 222.5 C538.2 222.4 541.1 223.3 543.2 224.4 C545.4 225.5 547.2 227.0 548.8 229.0 C550.3 231.0 551.9 233.8 552.5 236.4 C553.0 239.0 551.8 241.9 552.1 244.7 C552.4 247.5 553.3 250.4 554.3 253.0 C555.4 255.6 556.5 258.4 558.4 260.4 C560.2 262.4 563.0 263.9 565.4 265.0 C567.8 266.1 570.3 266.1 572.8 266.8 C575.2 267.6 577.7 268.4 580.2 269.6 C582.6 270.8 585.4 272.7 587.5 274.2 C589.7 275.8 591.2 277.2 593.1 278.8 C594.9 280.5 596.5 282.8 598.6 284.4 C600.8 285.9 606.0 287.9 606.0 288.1 C606.0 288.2 598.4 285.4 598.5 285.4 C598.5 285.3 603.8 286.7 606.2 287.7 C608.5 288.7 610.8 289.7 612.3 291.5 C613.8 293.3 614.9 295.6 615.4 298.5 C615.8 301.3 615.6 305.3 615.1 308.5 C614.6 311.7 613.4 314.6 612.3 317.7 C611.2 320.8 609.7 324.1 608.5 326.9 C607.2 329.7 606.0 332.7 604.6 334.6 C603.2 336.5 601.5 337.7 600.0 338.5 C598.5 339.2 597.2 339.6 595.4 338.9 C593.6 338.3 591.0 336.1 589.2 334.6 C587.4 333.1 586.1 331.4 584.6 330.0 C583.1 328.6 581.0 326.8 580.3 326.2" fill="none" stroke="#141414" stroke-width="4.4"/>
<ellipse cx="527.0" cy="251.5" rx="3.0" ry="3.0" fill="#141414" stroke="none" stroke-width="0.0"/>
<ellipse cx="549.1" cy="236.0" rx="2.9" ry="2.9" fill="#141414" stroke="none" stroke-width="0.0"/>
<ellipse cx="559.5" cy="263.7" rx="3.0" ry="3.0" fill="#141414" stroke="none" stroke-width="0.0"/>
<ellipse cx="578.7" cy="270.7" rx="3.2" ry="3.2" fill="#141414" stroke="none" stroke-width="0.0"/>
<ellipse cx="596.4" cy="284.8" rx="3.0" ry="3.0" fill="#141414" stroke="none" stroke-width="0.0"/>
<ellipse cx="597.2" cy="284.2" rx="3.0" ry="3.0" fill="#141414" stroke="none" stroke-width="0.0"/>
<ellipse cx="530.7" cy="228.6" rx="3.0" ry="3.0" fill="#141414" stroke="none" stroke-width="0.0"/>
<ellipse cx="526.2" cy="265.9" rx="2.7" ry="2.7" fill="#141414" stroke="none" stroke-width="0.0"/>
<ellipse cx="613.8" cy="300.8" rx="2.8" ry="2.8" fill="#141414" stroke="none" stroke-width="0.0"/>
<ellipse cx="607.7" cy="329.2" rx="2.8" ry="2.8" fill="#141414" stroke="none" stroke-width="0.0"/>
<ellipse cx="531.8" cy="228.6" rx="0.8" ry="0.8" fill="#fff" stroke="none" stroke-width="0.0"/>
<path d="M465.8 236.2 L475.8 233.5 L486.5 232.6 L494.2 234.6 L500.4 239.2 L503.5 245.4 L503.8 253.0 L502.0 260.8 L500.4 266.0 L502.0 269.2 L508.0 273.0 L517.3 276.2 L526.0 277.2 L529.5 275.4 L531.5 273.5 L540.8 275.4 L542.8 280.0 L543.0 287.0 L554.0 294.5 L564.3 301.0 L576.5 307.0 L583.0 309.5 L584.3 321.0 L581.5 333.5 L578.5 341.0 L576.0 348.0 L572.3 356.5 L567.7 365.8 L563.0 375.0 L558.5 384.2 L552.3 382.7 L546.0 378.8 L537.0 372.0 L533.0 367.3 L523.5 363.8 L521.0 359.2 L515.0 351.5 L507.3 342.3 L501.0 334.6 L496.5 330.8 L488.0 333.8 L485.8 330.0 L478.0 319.2 L473.5 310.0 L468.8 299.2 L465.8 290.8 L462.0 281.5 L459.6 270.8 L458.0 260.0 L458.0 250.8 L461.0 241.5Z" fill="#e9e9e9" stroke="#1c1c1c" stroke-width="1.9500000000000002"/>
<path d="M482.7 235.7 C482.3 234.6 484.6 233.1 486.5 232.9 C488.5 232.8 491.9 233.7 494.2 234.8 C496.5 235.8 498.8 237.5 500.4 239.2 C501.9 241.0 502.9 243.1 503.5 245.4 C504.0 247.7 504.0 250.5 503.8 253.1 C503.5 255.6 502.5 258.6 501.9 260.8 C501.4 262.9 500.4 264.7 500.4 266.2 C500.4 267.6 500.6 268.1 501.9 269.2 C503.2 270.4 505.5 271.9 508.1 273.1 C510.6 274.2 514.5 275.3 517.3 276.2 C520.1 277.1 523.7 277.4 525.0 278.5 C526.3 279.6 526.3 282.5 525.0 282.8 C523.7 283.1 520.1 281.2 517.3 280.3 C514.5 279.4 511.2 278.3 508.1 277.2 C505.0 276.2 501.3 275.0 498.8 273.8 C496.4 272.7 494.8 271.7 493.5 270.5 C492.1 269.2 491.2 267.8 490.8 266.2 C490.5 264.5 491.2 262.5 491.5 260.3 C491.8 258.1 492.5 255.6 492.7 253.1 C492.8 250.6 493.0 247.6 492.4 245.4 C491.7 243.2 490.5 241.3 488.8 239.7 C487.2 238.1 483.1 236.8 482.7 235.7Z" fill="#f6f6f6" stroke="#1c1c1c" stroke-width="1.1700000000000002"/>
<path d="M492.4 245.8 L503.2 243.1" fill="none" stroke="#1c1c1c" stroke-width="1.04" />
<path d="M492.7 253.1 L503.8 251.2" fill="none" stroke="#1c1c1c" stroke-width="1.04" />
<path d="M492.7 253.1 C494.7 251.6 502.1 250.2 503.8 251.2 C505.4 252.3 503.1 256.9 502.7 259.2 C502.3 261.6 502.1 263.5 501.2 265.4 C500.3 267.3 498.6 270.0 497.3 270.8 C496.0 271.5 494.5 270.8 493.5 270.0 C492.4 269.2 491.5 267.8 491.2 266.2 C490.8 264.5 491.4 262.2 491.6 260.0 C491.9 257.8 490.7 254.5 492.7 253.1Z" fill="#e9e9e9" stroke="none"/>
<path d="M517.2 276.0 L524.9 278.5 L529.5 277.2 L531.5 274.2 L540.3 275.7 L542.5 280.0 L543.1 287.1 L556.9 294.2 L572.3 302.3 L582.8 307.4 L580.8 310.8 L569.2 304.6 L556.9 298.5 L544.6 291.5 L532.3 285.4 L526.2 280.8 L520.0 278.5 L507.7 274.6 L508.0 273.1Z" fill="#f6f6f6" stroke="#1c1c1c" stroke-width="1.1700000000000002"/>
<path d="M529.5 277.2 L531.5 274.2 L540.3 275.7 L542.5 280.0 L541.2 283.1 L532.3 281.5Z" fill="#e9e9e9" stroke="#1c1c1c" stroke-width="1.3"/>
<ellipse cx="536.2" cy="278.5" rx="3.4" ry="2.0" fill="#f6f6f6" stroke="#1c1c1c" stroke-width="1.04" transform="rotate(15 536.2 278.5)"/>
<path d="M565.2 307.1 L570.6 308.5 L576.0 312.5 L583.5 310.0 L583.0 322.7 L580.3 341.0 L578.2 349.6 L563.1 335.6 L564.2 320.5 L566.3 315.2Z" fill="#f6f6f6" stroke="#1c1c1c" stroke-width="1.1700000000000002"/>
<path d="M500.0 328.1 L515.4 336.8 L535.4 348.1 L546.2 346.1 L561.5 340.1 L576.2 348.1 L572.3 356.5 L567.7 365.8 L563.1 375.0 L558.5 384.2 L552.3 382.7 L546.2 378.8 L536.9 371.9 L533.1 367.3 L520.0 362.7 L513.8 355.0 L506.2 344.2 L500.0 338.1Z" fill="#efefef" stroke="#1c1c1c" stroke-width="1.1700000000000002"/>
<ellipse cx="562.8" cy="356.5" rx="2.2" ry="2.6" fill="#fff" stroke="#1c1c1c" stroke-width="1.1700000000000002"/>
<path d="M486.5 232.6 L475.8 233.5 L465.8 236.2 L461.0 241.5 L458.0 250.8 L458.0 260.0 L459.6 270.8 L462.0 281.5 L465.8 290.8 L468.8 299.2 L473.5 310.0 L478.0 319.2 L485.8 330.0 L488.0 333.8 L488.1 328.5 L484.2 323.1 L475.0 313.1 L469.6 304.6 L478.1 308.5 L473.5 299.2 L469.6 290.0 L465.8 280.8 L463.5 270.8 L461.9 260.8 L461.9 252.3 L464.2 244.6 L468.8 239.2 L475.8 236.6 L482.7 235.7Z" fill="#fbfbfb" stroke="#1c1c1c" stroke-width="0.65"/>
<path d="M488.0 333.8 L496.5 330.8 L501.0 334.6 L507.3 342.3 L515.0 351.5 L521.0 359.2 L523.5 363.8 L527.3 361.1 L522.7 354.6 L516.5 346.9 L508.8 337.7 L502.7 330.3 L496.5 325.7 L488.1 328.5Z" fill="#fbfbfb" stroke="#1c1c1c" stroke-width="0.65"/>
<path d="M468.8 239.2 C468.1 240.1 465.4 242.4 464.2 244.6 C463.1 246.8 462.3 249.6 461.9 252.3 C461.5 255.0 461.7 257.7 461.9 260.8 C462.2 263.8 462.8 267.4 463.5 270.8 C464.1 274.1 464.7 277.6 465.8 280.8 C466.8 284.0 468.3 286.9 469.6 290.0 C470.9 293.1 472.1 296.2 473.5 299.2 C474.9 302.3 476.5 305.5 478.1 308.5 C479.6 311.4 481.9 315.5 482.7 316.9" fill="none" stroke="#1c1c1c" stroke-width="1.1700000000000002"/>
<path d="M468.8 239.2 C470.0 238.8 473.5 237.2 475.8 236.6 C478.1 236.0 480.5 235.2 482.7 235.7 C484.9 236.2 487.2 238.1 488.8 239.7 C490.5 241.3 491.7 243.2 492.4 245.4 C493.0 247.6 492.8 250.6 492.7 253.1 C492.5 255.6 491.8 258.1 491.5 260.3 C491.2 262.5 490.5 264.5 490.8 266.2 C491.2 267.8 492.1 269.2 493.5 270.5 C494.8 271.7 496.4 272.7 498.8 273.8 C501.3 275.0 505.0 276.2 508.1 277.2 C511.2 278.3 514.5 279.4 517.3 280.3 C520.1 281.2 523.7 282.4 525.0 282.8" fill="none" stroke="#1c1c1c" stroke-width="1.1700000000000002"/>
<path d="M469.6 304.6 C470.5 306.0 472.6 310.0 475.0 313.1 C477.4 316.2 482.1 320.5 484.2 323.1 C486.4 325.6 486.0 328.0 488.1 328.5 C490.1 328.9 494.1 325.4 496.5 325.7 C499.0 326.0 500.6 328.3 502.7 330.3 C504.7 332.3 506.5 334.9 508.8 337.7 C511.2 340.5 514.2 344.1 516.5 346.9 C518.8 349.7 520.9 352.3 522.7 354.6 C524.5 357.0 526.5 360.0 527.3 361.1" fill="none" stroke="#1c1c1c" stroke-width="1.1700000000000002"/>
<ellipse cx="468.8" cy="239.7" rx="1.1" ry="1.1" fill="#fff" stroke="#1c1c1c" stroke-width="1.04"/>
<ellipse cx="488.1" cy="248.2" rx="1.1" ry="1.1" fill="#fff" stroke="#1c1c1c" stroke-width="1.04"/>
<ellipse cx="461.6" cy="260.3" rx="1.1" ry="1.1" fill="#fff" stroke="#1c1c1c" stroke-width="1.04"/>
<ellipse cx="462.7" cy="265.8" rx="1.1" ry="1.1" fill="#fff" stroke="#1c1c1c" stroke-width="1.04"/>
<ellipse cx="467.8" cy="293.5" rx="1.1" ry="1.1" fill="#fff" stroke="#1c1c1c" stroke-width="1.04"/>
<ellipse cx="497.3" cy="276.6" rx="1.1" ry="1.1" fill="#fff" stroke="#1c1c1c" stroke-width="1.04"/>
<ellipse cx="516.5" cy="281.8" rx="1.1" ry="1.1" fill="#fff" stroke="#1c1c1c" stroke-width="1.04"/>
<ellipse cx="520.4" cy="283.8" rx="1.1" ry="1.1" fill="#fff" stroke="#1c1c1c" stroke-width="1.04"/>
<ellipse cx="514.6" cy="281.5" rx="1.1" ry="1.1" fill="#fff" stroke="#1c1c1c" stroke-width="1.04"/>
<ellipse cx="520.3" cy="283.8" rx="1.1" ry="1.1" fill="#fff" stroke="#1c1c1c" stroke-width="1.04"/>
<ellipse cx="537.7" cy="295.4" rx="1.1" ry="1.1" fill="#fff" stroke="#1c1c1c" stroke-width="1.04"/>
<ellipse cx="549.2" cy="302.3" rx="1.1" ry="1.1" fill="#fff" stroke="#1c1c1c" stroke-width="1.04"/>
<ellipse cx="486.5" cy="315.4" rx="1.1" ry="1.1" fill="#fff" stroke="#1c1c1c" stroke-width="1.04"/>
<ellipse cx="534.2" cy="347.7" rx="1.1" ry="1.1" fill="#fff" stroke="#1c1c1c" stroke-width="1.04"/>
<ellipse cx="534.6" cy="348.1" rx="1.1" ry="1.1" fill="#fff" stroke="#1c1c1c" stroke-width="1.04"/>
<ellipse cx="533.8" cy="347.7" rx="1.1" ry="1.1" fill="#fff" stroke="#1c1c1c" stroke-width="1.04"/>
<path d="M462.7 249.2 L471.2 245.4 L473.5 253.1 L465.0 256.9Z" fill="#f6f6f6" stroke="#1c1c1c" stroke-width="1.1700000000000002"/>
<path d="M463.2 258.2 L473.9 254.2 L475.0 261.2 L465.3 264.9Z" fill="#f6f6f6" stroke="#1c1c1c" stroke-width="1.1700000000000002"/>
<path d="M465.3 266.2 L475.0 262.3 L476.5 268.5 L467.3 271.5Z" fill="#f6f6f6" stroke="#1c1c1c" stroke-width="1.1700000000000002"/>
<path d="M471.2 240.0 L478.1 237.7 L480.4 240.8 L474.2 243.1Z" fill="#f6f6f6" stroke="#1c1c1c" stroke-width="1.04"/>
<path d="M474.2 243.1 C474.1 244.7 473.3 250.1 473.5 253.1 C473.6 256.1 474.5 258.7 475.0 261.2 C475.5 263.8 475.9 266.5 476.5 268.5 C477.2 270.4 478.5 272.3 478.8 273.1" fill="none" stroke="#1c1c1c" stroke-width="1.1700000000000002"/>
<path d="M480.4 240.8 C481.3 241.4 484.4 242.9 485.8 244.6 C487.2 246.3 488.5 248.2 488.8 250.8 C489.2 253.3 488.6 257.4 488.1 260.0 C487.6 262.6 487.1 264.4 485.8 266.2 C484.5 267.9 481.8 269.6 480.4 270.8 C479.0 271.9 477.8 272.7 477.3 273.1" fill="none" stroke="#1c1c1c" stroke-width="1.1700000000000002"/>
<ellipse cx="482.0" cy="255.4" rx="4.7" ry="6.3" fill="#e9e9e9" stroke="#1c1c1c" stroke-width="1.4300000000000002" transform="rotate(-10 482.0 255.4)"/>
<ellipse cx="482.2" cy="255.5" rx="3.2" ry="4.4" fill="#555" stroke="#1c1c1c" stroke-width="1.04" transform="rotate(-10 482.2 255.5)"/>
<ellipse cx="482.5" cy="255.3" rx="1.8" ry="2.7" fill="#ddd" stroke="#1c1c1c" stroke-width="0.65" transform="rotate(-10 482.5 255.3)"/>
<ellipse cx="482.0" cy="279.2" rx="3.5" ry="5.6" fill="#e9e9e9" stroke="#1c1c1c" stroke-width="1.3" transform="rotate(-5 482.0 279.2)"/>
<ellipse cx="482.2" cy="279.0" rx="1.9" ry="3.2" fill="#d6d6d6" stroke="#1c1c1c" stroke-width="1.04" transform="rotate(-5 482.2 279.0)"/>
<path d="M463.5 272.3 C464.5 272.2 467.6 270.5 469.6 271.5 C471.7 272.6 474.4 275.5 475.8 278.5 C477.2 281.4 476.9 285.6 478.1 289.2 C479.2 292.8 481.3 296.7 482.7 300.0 C484.1 303.3 485.4 306.4 486.5 309.2 C487.7 312.1 489.1 315.6 489.6 316.9" fill="none" stroke="#1c1c1c" stroke-width="1.1700000000000002"/>
<path d="M466.5 281.5 C467.3 282.6 469.6 284.6 471.2 287.7 C472.7 290.8 474.1 296.2 475.8 300.0 C477.4 303.8 479.6 307.7 481.2 310.8 C482.7 313.8 484.4 317.2 485.0 318.5" fill="none" stroke="#1c1c1c" stroke-width="1.04"/>
<path d="M467.8 290.0 L472.7 288.9 L474.5 293.8 L469.9 295.7Z" fill="#f6f6f6" stroke="#1c1c1c" stroke-width="1.04"/>
<path d="M485.4 290.8 C486.2 287.7 487.3 285.1 489.2 283.1 C491.2 281.0 493.8 279.2 496.9 278.5 C500.0 277.7 504.4 277.9 507.7 278.5 C511.0 279.0 513.8 280.1 516.9 281.5 C520.0 282.9 523.1 285.0 526.2 286.9 C529.2 288.8 532.3 291.3 535.4 293.1 C538.5 294.9 542.2 295.9 544.6 297.7 C547.1 299.5 549.0 301.4 550.0 303.8 C551.0 306.3 550.7 309.4 550.5 312.3 C550.2 315.3 549.2 318.2 548.5 321.5 C547.7 324.9 546.7 328.7 546.2 332.3 C545.6 335.9 546.2 340.5 545.4 343.1 C544.6 345.6 543.5 346.5 541.5 347.7 C539.6 348.8 536.4 350.3 533.8 350.0 C531.3 349.7 529.0 348.3 526.2 346.2 C523.3 344.0 520.3 340.0 516.9 336.9 C513.6 333.8 509.7 330.5 506.2 327.7 C502.6 324.9 498.5 322.8 495.4 320.0 C492.3 317.2 489.5 313.8 487.7 310.8 C485.9 307.7 485.0 304.9 484.6 301.5 C484.2 298.2 484.6 293.8 485.4 290.8Z" fill="#ececec" stroke="#1c1c1c" stroke-width="1.4300000000000002"/>
<path d="M488.5 293.1 C489.1 291.9 490.6 287.9 492.3 286.2 C494.0 284.4 495.9 283.0 498.5 282.3 C501.0 281.6 504.7 281.4 507.7 281.8 C510.6 282.3 513.3 283.6 516.2 284.9 C519.0 286.3 523.2 289.2 524.6 290.0" fill="none" stroke="#1c1c1c" stroke-width="1.04"/>
<path d="M503.1 293.1 C503.1 291.9 504.5 288.8 506.2 287.7 C507.8 286.5 511.0 286.0 513.1 286.2 C515.1 286.3 517.9 287.7 518.5 288.5 C519.0 289.2 517.3 290.5 516.2 290.8 C515.0 291.0 512.9 289.9 511.5 290.0 C510.1 290.1 508.6 290.8 507.7 291.5 C506.8 292.3 506.9 294.4 506.2 294.6 C505.4 294.9 503.1 294.2 503.1 293.1Z" fill="none" stroke="#1c1c1c" stroke-width="1.1700000000000002"/>
<ellipse cx="498.5" cy="298.2" rx="4.8" ry="5.2" fill="#e9e9e9" stroke="#1c1c1c" stroke-width="1.4300000000000002" transform="rotate(-10 498.5 298.2)"/>
<ellipse cx="498.7" cy="298.3" rx="3.4" ry="3.7" fill="#d8d8d8" stroke="#1c1c1c" stroke-width="0.9099999999999999" transform="rotate(-10 498.7 298.3)"/>
<ellipse cx="498.8" cy="298.4" rx="2.8" ry="3.0" fill="#d0d0d0" stroke="#1c1c1c" stroke-width="1.1700000000000002" transform="rotate(-10 498.8 298.4)"/>
<ellipse cx="512.3" cy="300.3" rx="4.8" ry="5.2" fill="#e9e9e9" stroke="#1c1c1c" stroke-width="1.4300000000000002" transform="rotate(-10 512.3 300.3)"/>
<ellipse cx="512.5" cy="300.4" rx="3.4" ry="3.7" fill="#d8d8d8" stroke="#1c1c1c" stroke-width="0.9099999999999999" transform="rotate(-10 512.5 300.4)"/>
<ellipse cx="512.6" cy="300.5" rx="2.8" ry="3.0" fill="#d0d0d0" stroke="#1c1c1c" stroke-width="1.1700000000000002" transform="rotate(-10 512.6 300.5)"/>
<ellipse cx="527.0" cy="309.2" rx="8.6" ry="10.2" fill="#e9e9e9" stroke="#1c1c1c" stroke-width="1.56" transform="rotate(-8 527.0 309.2)"/>
<ellipse cx="527.1" cy="309.3" rx="6.6" ry="7.9" fill="#e0e0e0" stroke="#1c1c1c" stroke-width="1.1700000000000002" transform="rotate(-8 527.1 309.3)"/>
<ellipse cx="527.2" cy="309.4" rx="4.8" ry="5.8" fill="#d0d0d0" stroke="#1c1c1c" stroke-width="1.3" transform="rotate(-8 527.2 309.4)"/>
<ellipse cx="517.7" cy="319.2" rx="4.6" ry="5.0" fill="#e9e9e9" stroke="#1c1c1c" stroke-width="1.4300000000000002" transform="rotate(-10 517.7 319.2)"/>
<ellipse cx="517.9" cy="319.3" rx="3.3" ry="3.6" fill="#d8d8d8" stroke="#1c1c1c" stroke-width="0.9099999999999999" transform="rotate(-10 517.9 319.3)"/>
<ellipse cx="518.0" cy="319.4" rx="2.6" ry="2.8" fill="#d0d0d0" stroke="#1c1c1c" stroke-width="1.1700000000000002" transform="rotate(-10 518.0 319.4)"/>
<ellipse cx="537.7" cy="326.2" rx="5.0" ry="5.4" fill="#e9e9e9" stroke="#1c1c1c" stroke-width="1.4300000000000002" transform="rotate(-10 537.7 326.2)"/>
<ellipse cx="537.9" cy="326.3" rx="3.6" ry="3.9" fill="#d8d8d8" stroke="#1c1c1c" stroke-width="0.9099999999999999" transform="rotate(-10 537.9 326.3)"/>
<ellipse cx="538.0" cy="326.4" rx="2.8" ry="3.0" fill="#d0d0d0" stroke="#1c1c1c" stroke-width="1.1700000000000002" transform="rotate(-10 538.0 326.4)"/>
<path d="M530.8 293.1 C532.1 293.6 536.2 295.0 538.5 296.2 C540.8 297.3 543.1 298.3 544.6 300.0 C546.2 301.7 547.4 303.8 547.7 306.2 C547.9 308.5 547.2 311.7 546.2 313.8 C545.1 316.0 542.9 318.1 541.5 319.2 C540.1 320.4 538.3 320.5 537.7 320.8" fill="none" stroke="#1c1c1c" stroke-width="1.1700000000000002"/>
<path d="M548.5 304.6 C549.1 305.4 551.7 306.9 552.3 309.2 C552.9 311.5 552.7 315.9 552.3 318.5 C551.9 321.0 550.4 323.6 550.0 324.6" fill="none" stroke="#1c1c1c" stroke-width="1.1700000000000002"/>
<path d="M518.5 296.2 C518.8 295.6 519.0 293.3 520.3 293.1 C521.6 292.8 525.2 294.4 526.2 294.6" fill="none" stroke="#1c1c1c" stroke-width="1.1700000000000002"/>
<path d="M494.6 311.5 C496.0 311.8 500.4 311.9 503.1 313.1 C505.8 314.2 509.5 317.6 510.8 318.5" fill="none" stroke="#1c1c1c" stroke-width="1.1700000000000002"/>
<path d="M489.2 314.6 C491.0 315.3 496.7 316.7 500.0 318.5 C503.3 320.3 506.2 323.5 509.2 325.4 C512.3 327.3 516.9 329.2 518.5 330.0" fill="none" stroke="#1c1c1c" stroke-width="1.1700000000000002"/>
<path d="M521.5 330.0 C523.1 330.6 527.7 332.2 530.8 333.8 C533.8 335.5 537.6 338.5 540.0 340.0 C542.4 341.5 544.5 342.6 545.4 343.1" fill="none" stroke="#1c1c1c" stroke-width="1.1700000000000002"/>
<path d="M526.2 336.9 C527.4 337.8 531.3 340.8 533.8 342.3 C536.4 343.8 540.3 345.5 541.5 346.2" fill="none" stroke="#1c1c1c" stroke-width="1.04"/>
<path d="M544.8 299.0 C545.5 300.3 548.0 303.5 549.1 306.5 C550.2 309.6 551.0 314.1 551.2 317.3 C551.5 320.5 551.2 322.9 550.7 325.9 C550.2 329.0 549.0 332.4 548.0 335.6 C547.0 338.8 547.1 343.2 544.8 345.3 C542.4 347.5 537.1 348.5 534.0 348.5 C530.9 348.5 527.7 345.8 526.5 345.3" fill="none" stroke="#1c1c1c" stroke-width="1.4300000000000002"/>
<path d="M547.8 300.1 C548.5 301.9 551.5 307.4 552.3 310.8 C553.2 314.3 553.0 317.3 552.8 320.5 C552.7 323.8 552.0 326.8 551.2 330.2 C550.5 333.6 549.0 338.3 548.2 341.0 C547.4 343.7 546.7 345.5 546.4 346.4" fill="none" stroke="#1c1c1c" stroke-width="1.1700000000000002"/>
<path d="M553.4 303.3 L563.1 307.6 L566.3 315.2 L564.2 320.5 L555.5 321.6 L552.3 318.4 L551.2 309.8Z" fill="#f6f6f6" stroke="#1c1c1c" stroke-width="1.56"/>
<path d="M554.7 332.9 C555.2 332.2 556.0 331.5 557.2 331.5 C558.3 331.5 560.6 332.1 561.5 332.9 C562.3 333.8 562.5 335.7 562.2 336.7 C561.9 337.7 560.9 338.6 559.8 338.8 C558.8 339.1 557.0 338.8 556.1 338.3 C555.1 337.8 554.5 336.7 554.2 335.8 C554.0 334.9 554.2 333.6 554.7 332.9Z" fill="#f6f6f6" stroke="#1c1c1c" stroke-width="1.3"/>
<path d="M558.8 324.8 L562.5 325.4 L562.2 327.9 L558.6 327.4Z" fill="#f6f6f6" stroke="#1c1c1c" stroke-width="1.04"/>
<path d="M558.3 327.9 L562.2 328.3 L561.8 330.7 L558.1 330.2Z" fill="#f6f6f6" stroke="#1c1c1c" stroke-width="1.04"/>
<path d="M563.1 335.6 L580.3 342.1" fill="none" stroke="#1c1c1c" stroke-width="1.3" />
<path d="M562.5 338.8 L579.2 345.5" fill="none" stroke="#1c1c1c" stroke-width="1.3" />
<path d="M536.2 299.0 L545.0 299.2 L548.2 311.9 L545.8 316.4 L537.2 317.3Z" fill="#ededed" stroke="#1c1c1c" stroke-width="1.4300000000000002"/>
<ellipse cx="537.2" cy="295.2" rx="1.0" ry="1.0" fill="#222" stroke="none" stroke-width="0.0"/>
<ellipse cx="552.3" cy="318.9" rx="1.0" ry="1.0" fill="#222" stroke="none" stroke-width="0.0"/>
<ellipse cx="545.3" cy="320.0" rx="1.0" ry="1.0" fill="#222" stroke="none" stroke-width="0.0"/>
<ellipse cx="534.0" cy="347.2" rx="1.0" ry="1.0" fill="#222" stroke="none" stroke-width="0.0"/>
<path d="M573.6 310.0 L578.2 311.9 L580.3 310.6 L583.0 310.0 L580.3 313.2 L576.0 313.2Z" fill="#222" stroke="#1c1c1c" stroke-width="0.52"/>
<ellipse cx="547.2" cy="320.0" rx="1.2" ry="1.2" fill="#222" stroke="none" stroke-width="0.0"/>
<ellipse cx="519.7" cy="295.4" rx="1.0" ry="1.0" fill="#222" stroke="none" stroke-width="0.0"/>
<path d="M469.6 305.4 L478.1 313.1 L488.1 314.6 L495.0 311.5 L498.8 316.2 L494.2 318.5 L488.1 320.8 L481.2 320.0 L473.5 313.1Z" fill="#f6f6f6" stroke="#1c1c1c" stroke-width="1.1700000000000002"/>
<path d="M488.1 333.8 C489.0 333.6 491.8 332.2 493.5 332.3 C495.1 332.4 496.0 332.8 498.1 334.6 C500.1 336.4 503.2 340.1 505.8 343.1 C508.3 346.0 511.0 349.4 513.5 352.3 C515.9 355.3 519.2 359.4 520.4 360.8" fill="none" stroke="#1c1c1c" stroke-width="1.04"/>
<path d="M519.3 362.6 L532.7 362.0 L534.2 365.7 L531.9 369.4 L520.4 370.0 L518.8 366.9Z" fill="#e9e9e9" stroke="#1c1c1c" stroke-width="1.4300000000000002"/>
<path d="M525.0 362.3 L525.5 369.7" fill="none" stroke="#1c1c1c" stroke-width="1.04" />
<path d="M528.8 362.3 L529.3 369.7" fill="none" stroke="#1c1c1c" stroke-width="1.04" />
<path d="M533.1 368.8 C534.0 369.6 536.3 372.3 538.5 373.5 C540.6 374.6 543.8 374.5 546.2 375.8 C548.5 377.1 550.4 379.9 552.3 381.2 C554.2 382.4 556.8 383.1 557.7 383.5" fill="none" stroke="#1c1c1c" stroke-width="1.1700000000000002"/>
<path d="M533.1 370.7 C533.8 371.4 535.6 373.8 537.7 375.0 C539.7 376.2 543.1 376.5 545.4 377.8 C547.7 379.0 550.5 381.6 551.5 382.4" fill="none" stroke="#1c1c1c" stroke-width="1.04"/>
<path d="M465.8 236.2 L475.8 233.5 L486.5 232.6 L494.2 234.6 L500.4 239.2 L503.5 245.4 L503.8 253.0 L502.0 260.8 L500.4 266.0 L502.0 269.2 L508.0 273.0 L517.3 276.2 L526.0 277.2 L529.5 275.4 L531.5 273.5 L540.8 275.4 L542.8 280.0 L543.0 287.0 L554.0 294.5 L564.3 301.0 L576.5 307.0 L583.0 309.5 L584.3 321.0 L581.5 333.5 L578.5 341.0 L576.0 348.0 L572.3 356.5 L567.7 365.8 L563.0 375.0 L558.5 384.2 L552.3 382.7 L546.0 378.8 L537.0 372.0 L533.0 367.3 L523.5 363.8 L521.0 359.2 L515.0 351.5 L507.3 342.3 L501.0 334.6 L496.5 330.8 L488.0 333.8 L485.8 330.0 L478.0 319.2 L473.5 310.0 L468.8 299.2 L465.8 290.8 L462.0 281.5 L459.6 270.8 L458.0 260.0 L458.0 250.8 L461.0 241.5Z" fill="none" stroke="#1c1c1c" stroke-width="1.7550000000000001"/>
<path d="M533.0 367.6 C533.5 368.1 534.6 369.2 536.0 370.4 C537.4 371.6 539.7 373.9 541.5 375.0 C543.3 376.1 545.1 376.2 547.0 377.2 C548.9 378.2 550.8 379.5 552.6 380.8 C554.4 382.1 557.1 384.3 558.0 385.0" fill="none" stroke="#1c1c1c" stroke-width="2.4699999999999998"/>
<path d="M558.0 385.0 C558.5 384.4 559.6 383.4 561.0 381.2 C562.4 378.9 565.6 373.1 566.5 371.5" fill="none" stroke="#1c1c1c" stroke-width="1.9500000000000002"/>
<ellipse cx="599.1" cy="226.9" rx="5.6" ry="13.8" fill="#161616" stroke="none" stroke-width="0.0" transform="rotate(3 599.1 226.9)"/>
<ellipse cx="598.0" cy="226.9" rx="2.1" ry="9.6" fill="#fff" stroke="none" stroke-width="0.0" transform="rotate(3 598.0 226.9)"/>
<path d="M487.5 352.8 L493.5 352.6 Q496 353.5 496 356.8 Q496 360 493.5 360.8 L487.5 361Z" fill="#ededed" stroke="#8a8a8a" stroke-width="0.8"/>
<ellipse cx="487.3" cy="356.9" rx="2.7" ry="4.1" fill="#e4e4e4" stroke="#8a8a8a" stroke-width="1.04"/>
<ellipse cx="487.4" cy="356.9" rx="1.5" ry="2.5" fill="#f4f4f4" stroke="#999" stroke-width="0.78"/>
<path d="M517.6 413.7 C518.5 414.3 521.3 416.2 523.2 417.2 C525.2 418.1 524.7 418.7 529.4 419.4 C534.1 420.0 543.7 420.6 551.5 421.1 C559.3 421.6 568.5 422.1 576.2 422.6 C583.8 423.0 593.8 423.6 597.3 423.8" fill="none" stroke="#1c1c1c" stroke-width="3.4"/>
<path d="M517.6 413.7 C518.5 414.3 521.3 416.2 523.2 417.2 C525.2 418.1 524.7 418.7 529.4 419.4 C534.1 420.0 543.7 420.6 551.5 421.1 C559.3 421.6 568.5 422.1 576.2 422.6 C583.8 423.0 593.8 423.6 597.3 423.8" fill="none" stroke="#dcdcdc" stroke-width="1.1"/>
<path d="M507.3 405.3 L511.6 409" stroke="#1c1c1c" stroke-width="4.0" stroke-linecap="round" fill="none"/>
<path d="M507.8 405.8 L511.4 408.8" stroke="#bdbdbd" stroke-width="1.6" stroke-linecap="round" fill="none"/>
<path d="M511 408.2 L518.2 414.8" stroke="#1c1c1c" stroke-width="6.4" stroke-linecap="butt" fill="none"/>
<path d="M511.6 408.9 L517.6 414.2" stroke="#e6e6e6" stroke-width="4.2" stroke-linecap="butt" fill="none"/>
<path d="M511.3 412.3 L515.8 407.6" fill="none" stroke="#1c1c1c" stroke-width="1.3" />
<ellipse cx="517.4" cy="414.3" rx="2.2" ry="3.0" fill="#e9e9e9" stroke="#1c1c1c" stroke-width="1.3" transform="rotate(-45 517.4 414.3)"/>
<path d="M252.3 291.5 L243.8 306.2" stroke="#1c1c1c" stroke-width="8.2" stroke-linecap="butt" fill="none"/>
<path d="M252.3 291.5 L243.8 306.2" stroke="#f0f0f0" stroke-width="6.2" stroke-linecap="butt" fill="none"/>
<ellipse cx="252.3" cy="291.5" rx="6.4" ry="5.0" fill="#f0f0f0" stroke="#1c1c1c" stroke-width="1.3" transform="rotate(15 252.3 291.5)"/>
<ellipse cx="252.4" cy="291.7" rx="4.5" ry="3.3" fill="#fff" stroke="#1c1c1c" stroke-width="1.1700000000000002" transform="rotate(15 252.4 291.7)"/>
<path d="M248.8 292.7 Q252.3 296.2 256.1 291.7 Q252.3 294.0 248.8 292.7Z" fill="#d2d2d2" stroke="#555" stroke-width="0.4"/>
<ellipse cx="243.8" cy="306.2" rx="6.4" ry="5.0" fill="#f0f0f0" stroke="#1c1c1c" stroke-width="1.3" transform="rotate(15 243.8 306.2)"/>
<ellipse cx="243.9" cy="306.4" rx="4.5" ry="3.3" fill="#fff" stroke="#1c1c1c" stroke-width="1.1700000000000002" transform="rotate(15 243.9 306.4)"/>
<path d="M240.3 307.4 Q243.8 310.9 247.6 306.4 Q243.8 308.7 240.3 307.4Z" fill="#d2d2d2" stroke="#555" stroke-width="0.4"/>
<path d="M198.4 355.6 L185.2 367.0" stroke="#1c1c1c" stroke-width="8.2" stroke-linecap="butt" fill="none"/>
<path d="M198.4 355.6 L185.2 367.0" stroke="#f0f0f0" stroke-width="6.2" stroke-linecap="butt" fill="none"/>
<ellipse cx="198.4" cy="355.6" rx="6.4" ry="5.0" fill="#f0f0f0" stroke="#1c1c1c" stroke-width="1.3" transform="rotate(30 198.4 355.6)"/>
<ellipse cx="198.5" cy="355.8" rx="4.5" ry="3.3" fill="#fff" stroke="#1c1c1c" stroke-width="1.1700000000000002" transform="rotate(30 198.5 355.8)"/>
<path d="M194.9 356.8 Q198.4 360.4 202.2 355.8 Q198.4 358.1 194.9 356.8Z" fill="#d2d2d2" stroke="#555" stroke-width="0.4"/>
<ellipse cx="185.2" cy="367.0" rx="6.4" ry="5.0" fill="#f0f0f0" stroke="#1c1c1c" stroke-width="1.3" transform="rotate(30 185.2 367.0)"/>
<ellipse cx="185.3" cy="367.2" rx="4.5" ry="3.3" fill="#fff" stroke="#1c1c1c" stroke-width="1.1700000000000002" transform="rotate(30 185.3 367.2)"/>
<path d="M181.7 368.2 Q185.2 371.8 189.0 367.2 Q185.2 369.5 181.7 368.2Z" fill="#d2d2d2" stroke="#555" stroke-width="0.4"/>
<path d="M279.0 238.5 L265.3 238.5 L265.3 264.2 L218.0 264.2" fill="none" stroke="#1c1c1c" stroke-width="0.9900000000000001" />
<path d="M384.0 235.8 L432.4 235.8 L432.4 278.0 L479.0 278.0" fill="none" stroke="#1c1c1c" stroke-width="0.9900000000000001" />
<path d="M258.0 291.7 L284.0 291.7" fill="none" stroke="#1c1c1c" stroke-width="0.9900000000000001" />
<path d="M410.5 291.0 L426.8 291.0 L426.8 298.3 L498.0 298.3" fill="none" stroke="#1c1c1c" stroke-width="0.9900000000000001" />
<path d="M244.4 310.0 L244.4 331.8 L302.0 331.8" fill="none" stroke="#1c1c1c" stroke-width="0.9900000000000001" />
<path d="M394.0 330.5 L434.6 330.5 L434.6 300.5 L514.0 300.5" fill="none" stroke="#1c1c1c" stroke-width="0.9900000000000001" />
<path d="M431.0 369.3 L448.0 369.3 L448.0 310.3 L527.0 310.3" fill="none" stroke="#1c1c1c" stroke-width="0.9900000000000001" />
<path d="M197.0 361.0 L197.0 397.0 L264.0 397.0" fill="none" stroke="#1c1c1c" stroke-width="0.9900000000000001" />
<path d="M359.5 395.3 L460.3 395.3 L460.3 320.4 L518.0 320.4" fill="none" stroke="#1c1c1c" stroke-width="0.9900000000000001" />
<path d="M185.2 372.0 L185.2 440.0 L264.0 440.0" fill="none" stroke="#1c1c1c" stroke-width="0.9900000000000001" />
<path d="M371.8 441.0 L470.3 441.0 L470.3 326.6 L535.0 326.6" fill="none" stroke="#1c1c1c" stroke-width="0.9900000000000001" />
<path d="M498.5 357.0 L559.0 357.0" fill="none" stroke="#1c1c1c" stroke-width="0.9900000000000001" />
<path d="M594.0 241.0 L549.7 286.2" fill="none" stroke="#1c1c1c" stroke-width="0.9900000000000001" />
<path d="M182.2 272.7 L251.0 291.0" fill="none" stroke="#1c1c1c" stroke-width="0.9900000000000001" />
<path d="M182.2 272.7 L243.0 305.5" fill="none" stroke="#1c1c1c" stroke-width="0.9900000000000001" />
<path d="M143.0 282.0 L184.5 366.0" fill="none" stroke="#1c1c1c" stroke-width="0.9900000000000001" />
<path d="M157.5 282.0 L198.0 355.0" fill="none" stroke="#1c1c1c" stroke-width="0.9900000000000001" />
<path d="M205.0 211.0 L191.4 223.2" fill="none" stroke="#1c1c1c" stroke-width="0.8800000000000001" />
<path d="M257.0 244.0 L257.0 256.8" fill="none" stroke="#1c1c1c" stroke-width="0.8800000000000001" />
<path d="M284.2 221.5 L287.0 229.7" fill="none" stroke="#1c1c1c" stroke-width="0.8800000000000001" />
<path d="M300.5 220.8 L300.5 228.5" fill="none" stroke="#1c1c1c" stroke-width="0.8800000000000001" />
<path d="M321.9 220.0 L321.9 231.5" fill="none" stroke="#1c1c1c" stroke-width="0.8800000000000001" />
<path d="M346.8 207.7 L346.8 216.0" fill="none" stroke="#1c1c1c" stroke-width="0.8800000000000001" />
<path d="M371.5 220.0 L371.5 229.5" fill="none" stroke="#1c1c1c" stroke-width="0.8800000000000001" />
<path d="M287.5 280.0 L291.0 286.0" fill="none" stroke="#1c1c1c" stroke-width="0.8800000000000001" />
<path d="M305.4 276.0 L305.4 284.0" fill="none" stroke="#1c1c1c" stroke-width="0.8800000000000001" />
<path d="M384.0 276.5 L384.0 284.0" fill="none" stroke="#1c1c1c" stroke-width="0.8800000000000001" />
<path d="M397.7 271.0 L397.7 277.4" fill="none" stroke="#1c1c1c" stroke-width="0.8800000000000001" />
<path d="M404.6 297.8 L412.0 305.7" fill="none" stroke="#1c1c1c" stroke-width="0.8800000000000001" />
<path d="M262.3 315.8 L254.0 311.0" fill="none" stroke="#1c1c1c" stroke-width="0.8800000000000001" />
<path d="M302.5 320.5 L306.5 326.0" fill="none" stroke="#1c1c1c" stroke-width="0.8800000000000001" />
<path d="M319.5 317.5 L322.5 324.5" fill="none" stroke="#1c1c1c" stroke-width="0.8800000000000001" />
<path d="M394.0 308.0 L388.6 315.5" fill="none" stroke="#1c1c1c" stroke-width="0.8800000000000001" />
<path d="M387.8 337.7 L394.0 343.8" fill="none" stroke="#1c1c1c" stroke-width="0.8800000000000001" />
<path d="M355.8 355.7 L358.3 362.3" fill="none" stroke="#1c1c1c" stroke-width="0.8800000000000001" />
<path d="M378.0 353.2 L378.0 361.8" fill="none" stroke="#1c1c1c" stroke-width="0.8800000000000001" />
<path d="M408.6 359.0 L402.5 365.2" fill="none" stroke="#1c1c1c" stroke-width="0.8800000000000001" />
<path d="M414.8 375.0 L416.7 381.2" fill="none" stroke="#1c1c1c" stroke-width="0.8800000000000001" />
<path d="M429.5 373.8 L434.5 378.8" fill="none" stroke="#1c1c1c" stroke-width="0.8800000000000001" />
<path d="M342.3 370.5 L348.0 378.6" fill="none" stroke="#1c1c1c" stroke-width="0.8800000000000001" />
<path d="M360.8 387.7 L353.4 393.0" fill="none" stroke="#1c1c1c" stroke-width="0.8800000000000001" />
<path d="M269.0 383.5 L272.0 391.0" fill="none" stroke="#1c1c1c" stroke-width="0.8800000000000001" />
<path d="M286.0 381.5 L286.0 389.5" fill="none" stroke="#1c1c1c" stroke-width="0.8800000000000001" />
<path d="M164.3 376.6 L176.0 371.7" fill="none" stroke="#1c1c1c" stroke-width="0.8800000000000001" />
<path d="M269.0 424.0 L272.5 434.0" fill="none" stroke="#1c1c1c" stroke-width="0.8800000000000001" />
<path d="M288.6 426.5 L288.6 434.0" fill="none" stroke="#1c1c1c" stroke-width="0.8800000000000001" />
<path d="M342.8 425.0 L342.8 434.0" fill="none" stroke="#1c1c1c" stroke-width="0.8800000000000001" />
<path d="M367.7 416.5 L360.8 423.9" fill="none" stroke="#1c1c1c" stroke-width="0.8800000000000001" />
<path d="M371.8 432.0 L364.5 437.7" fill="none" stroke="#1c1c1c" stroke-width="0.8800000000000001" />
<path d="M492.3 364.0 L494.3 371.4" fill="none" stroke="#1c1c1c" stroke-width="0.8800000000000001" />
<path d="M511.8 211.5 L525.5 226.0" fill="none" stroke="#1c1c1c" stroke-width="0.8800000000000001" />
<path d="M589.4 207.8 L594.6 214.6" fill="none" stroke="#1c1c1c" stroke-width="0.8800000000000001" />
<path d="M583.0 404.6 L577.4 419.4" fill="none" stroke="#1c1c1c" stroke-width="0.8800000000000001" />
<text x="208.6" y="212.1" font-size="13" text-anchor="middle">1</text>
<text x="257.0" y="241.4" font-size="13" text-anchor="middle">2</text>
<text x="281.5" y="221.0" font-size="13" text-anchor="middle">4</text>
<text x="301.0" y="219.8" font-size="13" text-anchor="middle">5</text>
<text x="321.5" y="216.7" font-size="13" text-anchor="middle">21</text>
<text x="347.0" y="205.4" font-size="13" text-anchor="middle">22</text>
<text x="370.0" y="219.0" font-size="13" text-anchor="middle">4</text>
<text x="286.4" y="279.4" font-size="13" text-anchor="middle">7</text>
<text x="305.4" y="274.4" font-size="13" text-anchor="middle">8</text>
<text x="384.0" y="275.4" font-size="13" text-anchor="middle">8</text>
<text x="397.7" y="269.4" font-size="13" text-anchor="middle">3</text>
<text x="415.5" y="313.2" font-size="13" text-anchor="middle">9</text>
<text x="270.0" y="324.4" font-size="13" text-anchor="middle">16</text>
<text x="300.5" y="320.4" font-size="13" text-anchor="middle">7</text>
<text x="318.4" y="316.7" font-size="13" text-anchor="middle">8</text>
<text x="397.2" y="308.9" font-size="13" text-anchor="middle">3</text>
<text x="397.4" y="350.7" font-size="13" text-anchor="middle">9</text>
<text x="354.6" y="355.2" font-size="13" text-anchor="middle">12</text>
<text x="378.0" y="352.0" font-size="13" text-anchor="middle">13</text>
<text x="412.3" y="357.4" font-size="13" text-anchor="middle">10</text>
<text x="418.5" y="390.4" font-size="13" text-anchor="middle">19</text>
<text x="441.4" y="386.9" font-size="13" text-anchor="middle">20</text>
<text x="338.6" y="370.7" font-size="13" text-anchor="middle">3</text>
<text x="368.0" y="389.4" font-size="13" text-anchor="middle">11</text>
<text x="267.9" y="381.4" font-size="13" text-anchor="middle">7</text>
<text x="286.0" y="380.4" font-size="13" text-anchor="middle">8</text>
<text x="155.7" y="384.7" font-size="13" text-anchor="middle">16</text>
<text x="267.7" y="422.0" font-size="13" text-anchor="middle">7</text>
<text x="288.6" y="425.4" font-size="13" text-anchor="middle">8</text>
<text x="342.8" y="424.1" font-size="13" text-anchor="middle">8</text>
<text x="369.9" y="417.4" font-size="13" text-anchor="middle">3</text>
<text x="374.8" y="432.0" font-size="13" text-anchor="middle">9</text>
<text x="496.7" y="387.6" font-size="13" text-anchor="middle">14</text>
<text x="507.2" y="209.2" font-size="13" text-anchor="middle">15</text>
<text x="587.2" y="204.7" font-size="13" text-anchor="middle">18</text>
<text x="584.8" y="403.6" font-size="13" text-anchor="middle">17</text>
<text x="49" y="247.4" font-size="7.1">rom015</text>
<circle cx="496.8" cy="381.1" r="11.9" fill="none" stroke="#e2131d" stroke-width="1.8"/>
<path d="M289.0 231.3 L284.5 231.3 A2.0 5.2 0 0 0 284.5 241.7 L289.0 241.7 A2.0 5.2 0 0 0 289.0 231.3Z" fill="#e9e9e9" stroke="#1c1c1c" stroke-width="1.0"/>
<ellipse cx="290.5" cy="237.0" rx="2.6" ry="6.3" fill="#e9e9e9" stroke="#1c1c1c" stroke-width="1.1"/>
<ellipse cx="290.9" cy="237.0" rx="1.8" ry="4.6" fill="#4a4a4a" stroke="#1c1c1c" stroke-width="0.77"/>
<ellipse cx="291.3" cy="237.2" rx="0.9" ry="2.4" fill="#bbb" stroke="#333" stroke-width="0.44000000000000006"/>
<ellipse cx="301.0" cy="237.5" rx="3.9" ry="6.6" fill="#454545" stroke="#1c1c1c" stroke-width="0.9900000000000001"/>
<ellipse cx="301.3" cy="237.5" rx="2.4" ry="4.5" fill="#e4e4e4" stroke="#1c1c1c" stroke-width="0.66"/>
<ellipse cx="301.5" cy="237.5" rx="1.2" ry="2.6" fill="#8a8a8a" stroke="#444" stroke-width="0.55"/>
<path d="M333.2 233.9 L310.5 233.9 A1.5 3.7 0 0 0 310.5 241.3 L333.2 241.3 A1.5 3.7 0 0 0 333.2 233.9Z" fill="#e9e9e9" stroke="#1c1c1c" stroke-width="1.0"/>
<path d="M311.5 235.2 L332.0 235.2" fill="none" stroke="#999" stroke-width="0.55" />
<path d="M344.5 218.5 A6.8 18.3 0 0 0 344.5 255.1 L349.5 255.1 A6.8 18.3 0 0 0 349.5 218.5Z" fill="#1e1e1e" stroke="#1c1c1c" stroke-width="0.9"/>
<path d="M342.3 220.0L346.5 220.0M341.2 221.6L345.4 221.6M340.5 223.1L344.7 223.1M339.9 224.6L344.1 224.6M339.5 226.1L343.7 226.1M339.1 227.7L343.3 227.7M338.8 229.2L343.0 229.2M338.6 230.7L342.8 230.7M338.4 232.2L342.6 232.2M338.3 233.8L342.5 233.8M338.2 235.3L342.4 235.3M338.2 236.8L342.4 236.8M338.2 238.3L342.4 238.3M338.3 239.9L342.5 239.9M338.4 241.4L342.6 241.4M338.6 242.9L342.8 242.9M338.8 244.4L343.0 244.4M339.1 246.0L343.3 246.0M339.5 247.5L343.7 247.5M339.9 249.0L344.1 249.0M340.5 250.5L344.7 250.5M341.2 252.1L345.4 252.1M342.3 253.6L346.5 253.6" stroke="#d8d8d8" stroke-width="0.55" fill="none" stroke-linecap="butt"/>
<ellipse cx="349.5" cy="236.8" rx="6.8" ry="18.3" fill="#e9e9e9" stroke="#1c1c1c" stroke-width="0.9900000000000001"/>
<ellipse cx="350.2" cy="236.8" rx="5.0" ry="14.0" fill="#e9e9e9" stroke="#1c1c1c" stroke-width="0.77"/>
<path d="M357.0 232.8 L347.0 232.8 A1.2 3.2 0 0 0 347.0 239.2 L357.0 239.2 A1.2 3.2 0 0 0 357.0 232.8Z" fill="#e9e9e9" stroke="#1c1c1c" stroke-width="0.9"/>
<ellipse cx="357.0" cy="236.0" rx="1.2" ry="3.2" fill="#e9e9e9" stroke="#1c1c1c" stroke-width="0.7920000000000001"/>
<ellipse cx="350.0" cy="237.0" rx="3.3" ry="6.2" fill="none" stroke="#1c1c1c" stroke-width="0.77"/>
<path d="M368.9 231.7 L375.2 231.7 A1.6 4.9 0 0 1 375.2 241.5 L368.9 241.5Z" fill="#e9e9e9" stroke="#1c1c1c" stroke-width="0.9"/>
<path d="M368.0 230.3 A2.3 6.3 0 0 0 368.0 242.9 L368.9 242.9 A2.3 6.3 0 0 0 368.9 230.3Z" fill="#e9e9e9" stroke="#1c1c1c" stroke-width="1.0"/>
<ellipse cx="368.0" cy="236.6" rx="2.3" ry="6.3" fill="#e9e9e9" stroke="#1c1c1c" stroke-width="0.9900000000000001"/>
<ellipse cx="368.2" cy="236.6" rx="1.2" ry="3.7" fill="#bdbdbd" stroke="#1c1c1c" stroke-width="0.8800000000000001"/>
<path d="M295.3 287.2 L289.9 287.2 A1.7 4.5 0 0 0 289.9 296.2 L295.3 296.2 A1.7 4.5 0 0 0 295.3 287.2Z" fill="#e9e9e9" stroke="#1c1c1c" stroke-width="1.0"/>
<ellipse cx="295.3" cy="291.7" rx="1.7" ry="4.5" fill="#e9e9e9" stroke="#1c1c1c" stroke-width="0.8800000000000001"/>
<ellipse cx="295.1" cy="291.7" rx="1.3" ry="2.8" fill="#555" stroke="#1c1c1c" stroke-width="0.8800000000000001"/>
<ellipse cx="305.2" cy="291.5" rx="3.9" ry="6.4" fill="#454545" stroke="#1c1c1c" stroke-width="0.9900000000000001"/>
<ellipse cx="305.5" cy="291.5" rx="2.4" ry="4.4" fill="#e4e4e4" stroke="#1c1c1c" stroke-width="0.66"/>
<ellipse cx="305.7" cy="291.5" rx="1.2" ry="2.6" fill="#8a8a8a" stroke="#444" stroke-width="0.55"/>
<path d="M322.0 287.4 L314.5 287.4 A1.5 4.2 0 0 0 314.5 295.8 L322.0 295.8 A1.5 4.2 0 0 0 322.0 287.4Z" fill="#e9e9e9" stroke="#1c1c1c" stroke-width="1.0"/>
<path d="M320.5 285.5 L327 284.5 L329.5 287 L329.5 297 L327.5 301 L323 301.3 L320.8 297Z" fill="#e9e9e9" stroke="#1c1c1c" stroke-width="1"/>
<path d="M333.1 277.2 A5.2 13.8 0 0 0 333.1 304.8 L338.6 304.8 A5.2 13.8 0 0 0 338.6 277.2Z" fill="#1e1e1e" stroke="#1c1c1c" stroke-width="0.9"/>
<path d="M331.2 278.7L335.9 278.7M330.3 280.3L335.0 280.3M329.7 281.8L334.4 281.8M329.3 283.3L334.0 283.3M328.9 284.9L333.6 284.9M328.7 286.4L333.4 286.4M328.5 287.9L333.2 287.9M328.4 289.5L333.1 289.5M328.4 291.0L333.1 291.0M328.4 292.5L333.1 292.5M328.5 294.1L333.2 294.1M328.7 295.6L333.4 295.6M328.9 297.1L333.6 297.1M329.3 298.7L334.0 298.7M329.7 300.2L334.4 300.2M330.3 301.7L335.0 301.7M331.2 303.3L335.9 303.3" stroke="#d8d8d8" stroke-width="0.55" fill="none" stroke-linecap="butt"/>
<ellipse cx="338.6" cy="291.0" rx="5.2" ry="13.8" fill="#e9e9e9" stroke="#1c1c1c" stroke-width="0.9900000000000001"/>
<path d="M342.4 279.2 A4.6 11.8 0 0 0 342.4 302.8 L346.6 302.8 A4.6 11.8 0 0 0 346.6 279.2Z" fill="#1e1e1e" stroke="#1c1c1c" stroke-width="0.9"/>
<path d="M340.6 280.8L344.0 280.8M339.8 282.3L343.2 282.3M339.2 283.9L342.6 283.9M338.8 285.5L342.2 285.5M338.6 287.1L342.0 287.1M338.4 288.6L341.8 288.6M338.3 290.2L341.7 290.2M338.3 291.8L341.7 291.8M338.4 293.4L341.8 293.4M338.6 294.9L342.0 294.9M338.8 296.5L342.2 296.5M339.2 298.1L342.6 298.1M339.8 299.7L343.2 299.7M340.6 301.2L344.0 301.2" stroke="#d8d8d8" stroke-width="0.55" fill="none" stroke-linecap="butt"/>
<ellipse cx="346.6" cy="291.0" rx="4.6" ry="11.8" fill="#e9e9e9" stroke="#1c1c1c" stroke-width="0.9900000000000001"/>
<ellipse cx="347.4" cy="291.0" rx="3.4" ry="8.5" fill="#e9e9e9" stroke="#1c1c1c" stroke-width="0.77"/>
<path d="M352.6 285.0 L346.5 285.0 A1.9 5.0 0 0 0 346.5 295.0 L352.6 295.0 A1.9 5.0 0 0 0 352.6 285.0Z" fill="#e9e9e9" stroke="#1c1c1c" stroke-width="0.9"/>
<ellipse cx="352.6" cy="290.0" rx="1.9" ry="5.0" fill="#e9e9e9" stroke="#1c1c1c" stroke-width="0.7920000000000001"/>
<ellipse cx="352.8" cy="290.0" rx="1.0" ry="2.6" fill="#ddd" stroke="#1c1c1c" stroke-width="0.55"/>
<path d="M364.4 280.2 A5.2 10.1 0 0 0 364.4 300.4 L370.0 300.4 A5.2 10.1 0 0 0 370.0 280.2Z" fill="#1e1e1e" stroke="#1c1c1c" stroke-width="0.9"/>
<path d="M362.1 281.8L366.9 281.8M361.1 283.3L365.9 283.3M360.5 284.9L365.3 284.9M360.1 286.4L364.9 286.4M359.8 288.0L364.6 288.0M359.7 289.5L364.5 289.5M359.7 291.1L364.5 291.1M359.8 292.6L364.6 292.6M360.1 294.2L364.9 294.2M360.5 295.7L365.3 295.7M361.1 297.3L365.9 297.3M362.1 298.8L366.9 298.8" stroke="#d8d8d8" stroke-width="0.55" fill="none" stroke-linecap="butt"/>
<ellipse cx="370.0" cy="290.3" rx="5.2" ry="10.1" fill="#e9e9e9" stroke="#1c1c1c" stroke-width="0.9900000000000001"/>
<ellipse cx="370.6" cy="290.3" rx="3.9" ry="7.6" fill="#dcdcdc" stroke="#1c1c1c" stroke-width="0.8800000000000001"/>
<ellipse cx="371.1" cy="290.3" rx="2.8" ry="5.5" fill="#e9e9e9" stroke="#1c1c1c" stroke-width="0.66"/>
<ellipse cx="384.2" cy="291.0" rx="3.7" ry="6.2" fill="#454545" stroke="#1c1c1c" stroke-width="0.9900000000000001"/>
<ellipse cx="384.5" cy="291.0" rx="2.3" ry="4.2" fill="#e4e4e4" stroke="#1c1c1c" stroke-width="0.66"/>
<ellipse cx="384.7" cy="291.0" rx="1.1" ry="2.5" fill="#8a8a8a" stroke="#444" stroke-width="0.55"/>
<rect x="394.3" y="278.8" width="8.1" height="2.8" rx="0.8" fill="#d9d9d9" stroke="#333" stroke-width="0.8"/>
<path d="M395.9 286.3 L403.0 286.3 A1.6 4.7 0 0 1 403.0 295.7 L395.9 295.7Z" fill="#e9e9e9" stroke="#1c1c1c" stroke-width="0.9"/>
<path d="M394.7 284.8 A2.2 6.2 0 0 0 394.7 297.2 L395.9 297.2 A2.2 6.2 0 0 0 395.9 284.8Z" fill="#e9e9e9" stroke="#1c1c1c" stroke-width="1.0"/>
<ellipse cx="394.7" cy="291.0" rx="2.2" ry="6.2" fill="#e9e9e9" stroke="#1c1c1c" stroke-width="0.9900000000000001"/>
<ellipse cx="394.9" cy="291.0" rx="1.2" ry="3.6" fill="#bdbdbd" stroke="#1c1c1c" stroke-width="0.8800000000000001"/>
<path d="M312.5 326.6 L307.2 326.6 A1.8 4.8 0 0 0 307.2 336.2 L312.5 336.2 A1.8 4.8 0 0 0 312.5 326.6Z" fill="#e9e9e9" stroke="#1c1c1c" stroke-width="1.0"/>
<ellipse cx="312.5" cy="331.4" rx="1.8" ry="4.8" fill="#e9e9e9" stroke="#1c1c1c" stroke-width="0.8800000000000001"/>
<ellipse cx="312.3" cy="331.4" rx="1.3" ry="3.0" fill="#555" stroke="#1c1c1c" stroke-width="0.8800000000000001"/>
<ellipse cx="324.2" cy="331.2" rx="3.8" ry="6.2" fill="#454545" stroke="#1c1c1c" stroke-width="0.9900000000000001"/>
<ellipse cx="324.5" cy="331.2" rx="2.4" ry="4.2" fill="#e4e4e4" stroke="#1c1c1c" stroke-width="0.66"/>
<ellipse cx="324.7" cy="331.2" rx="1.1" ry="2.5" fill="#8a8a8a" stroke="#444" stroke-width="0.55"/>
<path d="M345.0 327.3 L337.5 327.3 A1.5 4.2 0 0 0 337.5 335.7 L345.0 335.7 A1.5 4.2 0 0 0 345.0 327.3Z" fill="#e9e9e9" stroke="#1c1c1c" stroke-width="1.0"/>
<path d="M341.5 326.5 L346.5 325.8 L347.8 328 L347.8 336.5 L346 339.6 L342.5 339.3 L341 336Z" fill="#e9e9e9" stroke="#1c1c1c" stroke-width="1"/>
<path d="M350.0 319.5 A4.4 11.5 0 0 0 350.0 342.5 L354.8 342.5 A4.4 11.5 0 0 0 354.8 319.5Z" fill="#1e1e1e" stroke="#1c1c1c" stroke-width="0.9"/>
<path d="M348.3 321.0L352.3 321.0M347.5 322.6L351.5 322.6M347.0 324.1L351.0 324.1M346.6 325.6L350.6 325.6M346.4 327.2L350.4 327.2M346.2 328.7L350.2 328.7M346.1 330.2L350.1 330.2M346.1 331.8L350.1 331.8M346.2 333.3L350.2 333.3M346.4 334.8L350.4 334.8M346.6 336.4L350.6 336.4M347.0 337.9L351.0 337.9M347.5 339.4L351.5 339.4M348.3 341.0L352.3 341.0" stroke="#d8d8d8" stroke-width="0.55" fill="none" stroke-linecap="butt"/>
<ellipse cx="354.8" cy="331.0" rx="4.4" ry="11.5" fill="#e9e9e9" stroke="#1c1c1c" stroke-width="0.9900000000000001"/>
<ellipse cx="355.5" cy="331.0" rx="3.0" ry="8.2" fill="#e9e9e9" stroke="#1c1c1c" stroke-width="0.77"/>
<path d="M363.0 325.7 L354.5 325.7 A2.0 5.3 0 0 0 354.5 336.3 L363.0 336.3 A2.0 5.3 0 0 0 363.0 325.7Z" fill="#e9e9e9" stroke="#1c1c1c" stroke-width="0.9"/>
<path d="M368.6 326.7 L360.0 326.7 A1.5 4.1 0 0 0 360.0 334.9 L368.6 334.9 A1.5 4.1 0 0 0 368.6 326.7Z" fill="#e9e9e9" stroke="#1c1c1c" stroke-width="0.9"/>
<ellipse cx="368.6" cy="330.8" rx="1.5" ry="4.1" fill="#e9e9e9" stroke="#1c1c1c" stroke-width="0.7920000000000001"/>
<rect x="379.2" y="315.9" width="8.6" height="2.7" rx="0.8" fill="#d9d9d9" stroke="#333" stroke-width="0.8"/>
<path d="M376.6 326.7 L385.1 326.7 A1.5 4.5 0 0 1 385.1 335.7 L376.6 335.7Z" fill="#e9e9e9" stroke="#1c1c1c" stroke-width="0.9"/>
<path d="M375.2 325.2 A2.2 6.0 0 0 0 375.2 337.2 L376.6 337.2 A2.2 6.0 0 0 0 376.6 325.2Z" fill="#e9e9e9" stroke="#1c1c1c" stroke-width="1.0"/>
<ellipse cx="375.2" cy="331.2" rx="2.2" ry="6.0" fill="#e9e9e9" stroke="#1c1c1c" stroke-width="0.9900000000000001"/>
<ellipse cx="375.4" cy="331.2" rx="1.2" ry="3.5" fill="#bdbdbd" stroke="#1c1c1c" stroke-width="0.8800000000000001"/>
<path d="M358.8 363.0 A2.9 6.3 0 0 0 358.8 375.6 L365.0 375.6 A2.9 6.3 0 0 0 365.0 363.0Z" fill="#222" stroke="#1c1c1c" stroke-width="0.9"/>
<path d="M357.5 364.4L362.9 364.4M356.9 365.8L362.3 365.8M356.6 367.2L362.0 367.2M356.4 368.6L361.8 368.6M356.4 370.0L361.8 370.0M356.6 371.4L362.0 371.4M356.9 372.8L362.3 372.8M357.5 374.2L362.9 374.2" stroke="#9a9a9a" stroke-width="0.55" fill="none" stroke-linecap="butt"/>
<ellipse cx="365.0" cy="369.3" rx="2.9" ry="6.3" fill="#e9e9e9" stroke="#1c1c1c" stroke-width="0.9900000000000001"/>
<ellipse cx="365.3" cy="369.3" rx="1.9" ry="4.2" fill="#cfcfcf" stroke="#1c1c1c" stroke-width="0.77"/>
<path d="M374.7 362.8 A3.0 6.4 0 0 0 374.7 375.6 L380.7 375.6 A3.0 6.4 0 0 0 380.7 362.8Z" fill="#333" stroke="#1c1c1c" stroke-width="0.9"/>
<path d="M373.2 364.4L378.4 364.4M372.6 366.0L377.8 366.0M372.3 367.6L377.5 367.6M372.2 369.2L377.4 369.2M372.3 370.8L377.5 370.8M372.6 372.4L377.8 372.4M373.2 374.0L378.4 374.0" stroke="#e6e6e6" stroke-width="0.55" fill="none" stroke-linecap="butt"/>
<ellipse cx="380.7" cy="369.2" rx="3.0" ry="6.4" fill="#e9e9e9" stroke="#1c1c1c" stroke-width="0.9900000000000001"/>
<ellipse cx="381.0" cy="369.2" rx="2.0" ry="4.3" fill="#d5d5d5" stroke="#1c1c1c" stroke-width="0.77"/>
<ellipse cx="381.3" cy="369.2" rx="1.1" ry="2.5" fill="#888" stroke="#1c1c1c" stroke-width="0.44000000000000006"/>
<path d="M393 362.5 L400 363.5 Q402.6 365 402.6 369.5 Q402.6 374 400 376 L393 377Z" fill="#e9e9e9" stroke="#1c1c1c" stroke-width="0.9"/>
<ellipse cx="392.3" cy="369.6" rx="3.6" ry="8.8" fill="#e9e9e9" stroke="#1c1c1c" stroke-width="1.2100000000000002"/>
<ellipse cx="392.6" cy="369.6" rx="2.6" ry="6.7" fill="#dcdcdc" stroke="#1c1c1c" stroke-width="0.8800000000000001"/>
<ellipse cx="392.9" cy="369.6" rx="1.6" ry="4.4" fill="#b5b5b5" stroke="#1c1c1c" stroke-width="0.77"/>
<ellipse cx="414.0" cy="368.5" rx="3.4" ry="6.0" fill="#e9e9e9" stroke="#1c1c1c" stroke-width="1.32" transform="rotate(8 414.0 368.5)"/>
<ellipse cx="414.3" cy="368.5" rx="1.7" ry="3.7" fill="#fff" stroke="#1c1c1c" stroke-width="0.8800000000000001" transform="rotate(8 414.3 368.5)"/>
<path d="M415.5 362.3 L417.6 364.5" fill="none" stroke="#1c1c1c" stroke-width="1.1" />
<ellipse cx="424.6" cy="369.4" rx="4.4" ry="4.9" fill="#dadada" stroke="#1c1c1c" stroke-width="1.2100000000000002"/>
<ellipse cx="424.2" cy="369.3" rx="2.9" ry="3.4" fill="#8a8a8a" stroke="#1c1c1c" stroke-width="0.9900000000000001"/>
<ellipse cx="423.9" cy="369.2" rx="1.5" ry="1.9" fill="#c8c8c8" stroke="#1c1c1c" stroke-width="0.55"/>
<path d="M275.9 392.0 L270.7 392.0 A1.9 5.0 0 0 0 270.7 402.0 L275.9 402.0 A1.9 5.0 0 0 0 275.9 392.0Z" fill="#e9e9e9" stroke="#1c1c1c" stroke-width="1.0"/>
<ellipse cx="275.9" cy="397.0" rx="1.9" ry="5.0" fill="#e9e9e9" stroke="#1c1c1c" stroke-width="0.8800000000000001"/>
<ellipse cx="275.7" cy="397.0" rx="1.4" ry="3.1" fill="#555" stroke="#1c1c1c" stroke-width="0.8800000000000001"/>
<ellipse cx="286.2" cy="396.5" rx="3.8" ry="6.2" fill="#454545" stroke="#1c1c1c" stroke-width="0.9900000000000001"/>
<ellipse cx="286.5" cy="396.5" rx="2.4" ry="4.2" fill="#e4e4e4" stroke="#1c1c1c" stroke-width="0.66"/>
<ellipse cx="286.7" cy="396.5" rx="1.1" ry="2.5" fill="#8a8a8a" stroke="#444" stroke-width="0.55"/>
<path d="M302.5 392.8 L294.5 392.8 A1.6 4.5 0 0 0 294.5 401.8 L302.5 401.8 A1.6 4.5 0 0 0 302.5 392.8Z" fill="#e9e9e9" stroke="#1c1c1c" stroke-width="1.0"/>
<path d="M300.5 392.2 L305 392 L306.2 394 L306.2 402 L304.5 405.3 L301.5 405 L300.3 402Z" fill="#e9e9e9" stroke="#1c1c1c" stroke-width="1"/>
<path d="M307.5 387.7 A3.0 8.3 0 0 0 307.5 404.3 L311.0 404.3 A3.0 8.3 0 0 0 311.0 387.7Z" fill="#1e1e1e" stroke="#1c1c1c" stroke-width="0.9"/>
<path d="M306.3 389.2L309.0 389.2M305.7 390.7L308.4 390.7M305.3 392.2L308.0 392.2M305.1 393.7L307.8 393.7M305.0 395.2L307.7 395.2M305.0 396.8L307.7 396.8M305.1 398.3L307.8 398.3M305.3 399.8L308.0 399.8M305.7 401.3L308.4 401.3M306.3 402.8L309.0 402.8" stroke="#d8d8d8" stroke-width="0.55" fill="none" stroke-linecap="butt"/>
<ellipse cx="311.0" cy="396.0" rx="3.0" ry="8.3" fill="#e9e9e9" stroke="#1c1c1c" stroke-width="0.9900000000000001"/>
<path d="M316.3 382.8 A5.3 14.0 0 0 0 316.3 410.8 L321.5 410.8 A5.3 14.0 0 0 0 321.5 382.8Z" fill="#1e1e1e" stroke="#1c1c1c" stroke-width="0.9"/>
<path d="M314.4 384.4L318.8 384.4M313.5 385.9L317.9 385.9M312.8 387.5L317.2 387.5M312.4 389.0L316.8 389.0M312.1 390.6L316.5 390.6M311.8 392.1L316.2 392.1M311.6 393.7L316.0 393.7M311.5 395.2L315.9 395.2M311.5 396.8L315.9 396.8M311.5 398.4L315.9 398.4M311.6 399.9L316.0 399.9M311.8 401.5L316.2 401.5M312.1 403.0L316.5 403.0M312.4 404.6L316.8 404.6M312.8 406.1L317.2 406.1M313.5 407.7L317.9 407.7M314.4 409.2L318.8 409.2" stroke="#d8d8d8" stroke-width="0.55" fill="none" stroke-linecap="butt"/>
<ellipse cx="321.5" cy="396.8" rx="5.3" ry="14.0" fill="#e9e9e9" stroke="#1c1c1c" stroke-width="0.9900000000000001"/>
<ellipse cx="322.3" cy="396.8" rx="3.8" ry="10.5" fill="#e9e9e9" stroke="#1c1c1c" stroke-width="0.77"/>
<path d="M328.0 391.0 L321.0 391.0 A1.9 5.0 0 0 0 321.0 401.0 L328.0 401.0 A1.9 5.0 0 0 0 328.0 391.0Z" fill="#e9e9e9" stroke="#1c1c1c" stroke-width="0.9"/>
<path d="M332.3 392.1 L326.0 392.1 A1.4 3.8 0 0 0 326.0 399.7 L332.3 399.7 A1.4 3.8 0 0 0 332.3 392.1Z" fill="#e9e9e9" stroke="#1c1c1c" stroke-width="0.9"/>
<ellipse cx="332.3" cy="395.9" rx="1.4" ry="3.8" fill="#e9e9e9" stroke="#1c1c1c" stroke-width="0.7920000000000001"/>
<rect x="347.0" y="380.0" width="8.5" height="2.8" rx="0.8" fill="#d9d9d9" stroke="#333" stroke-width="0.8"/>
<path d="M340.6 392.4 L350.8 392.4 A1.5 4.4 0 0 1 350.8 401.2 L340.6 401.2Z" fill="#e9e9e9" stroke="#1c1c1c" stroke-width="0.9"/>
<path d="M338.1 390.9 A2.1 5.9 0 0 0 338.1 402.7 L340.6 402.7 A2.1 5.9 0 0 0 340.6 390.9Z" fill="#e9e9e9" stroke="#1c1c1c" stroke-width="1.0"/>
<ellipse cx="338.1" cy="396.8" rx="2.1" ry="5.9" fill="#e9e9e9" stroke="#1c1c1c" stroke-width="0.9900000000000001"/>
<ellipse cx="338.3" cy="396.8" rx="1.2" ry="3.4" fill="#bdbdbd" stroke="#1c1c1c" stroke-width="0.8800000000000001"/>
<path d="M276.3 434.9 L271.5 434.9 A1.9 4.9 0 0 0 271.5 444.7 L276.3 444.7 A1.9 4.9 0 0 0 276.3 434.9Z" fill="#e9e9e9" stroke="#1c1c1c" stroke-width="1.0"/>
<ellipse cx="276.3" cy="439.8" rx="1.9" ry="4.9" fill="#e9e9e9" stroke="#1c1c1c" stroke-width="0.8800000000000001"/>
<ellipse cx="276.1" cy="439.8" rx="1.4" ry="3.0" fill="#555" stroke="#1c1c1c" stroke-width="0.8800000000000001"/>
<ellipse cx="288.2" cy="440.3" rx="3.8" ry="6.1" fill="#454545" stroke="#1c1c1c" stroke-width="0.9900000000000001"/>
<ellipse cx="288.5" cy="440.3" rx="2.4" ry="4.1" fill="#e4e4e4" stroke="#1c1c1c" stroke-width="0.66"/>
<ellipse cx="288.7" cy="440.3" rx="1.1" ry="2.4" fill="#8a8a8a" stroke="#444" stroke-width="0.55"/>
<path d="M306.5 437.3 L299.0 437.3 A1.5 4.2 0 0 0 299.0 445.7 L306.5 445.7 A1.5 4.2 0 0 0 306.5 437.3Z" fill="#e9e9e9" stroke="#1c1c1c" stroke-width="1.0"/>
<path d="M304.8 434.5 L309.5 434.2 L310.8 436 L310.8 444 L309.5 446.5 L305.5 446.3 L304.6 444Z" fill="#e9e9e9" stroke="#1c1c1c" stroke-width="1"/>
<path d="M311.6 432.1 A3.2 9.4 0 0 0 311.6 450.9 L315.0 450.9 A3.2 9.4 0 0 0 315.0 432.1Z" fill="#1e1e1e" stroke="#1c1c1c" stroke-width="0.9"/>
<path d="M310.3 433.7L312.9 433.7M309.7 435.2L312.3 435.2M309.3 436.8L311.9 436.8M309.1 438.4L311.7 438.4M308.9 439.9L311.5 439.9M308.9 441.5L311.5 441.5M308.9 443.1L311.5 443.1M309.1 444.6L311.7 444.6M309.3 446.2L311.9 446.2M309.7 447.8L312.3 447.8M310.3 449.3L312.9 449.3" stroke="#d8d8d8" stroke-width="0.55" fill="none" stroke-linecap="butt"/>
<ellipse cx="315.0" cy="441.5" rx="3.2" ry="9.4" fill="#e9e9e9" stroke="#1c1c1c" stroke-width="0.9900000000000001"/>
<path d="M318.3 428.9 A5.0 12.6 0 0 0 318.3 454.1 L323.3 454.1 A5.0 12.6 0 0 0 323.3 428.9Z" fill="#1e1e1e" stroke="#1c1c1c" stroke-width="0.9"/>
<path d="M316.4 430.5L320.6 430.5M315.5 432.1L319.7 432.1M314.9 433.6L319.1 433.6M314.5 435.2L318.7 435.2M314.2 436.8L318.4 436.8M314.0 438.4L318.2 438.4M313.8 439.9L318.0 439.9M313.8 441.5L318.0 441.5M313.8 443.1L318.0 443.1M314.0 444.6L318.2 444.6M314.2 446.2L318.4 446.2M314.5 447.8L318.7 447.8M314.9 449.4L319.1 449.4M315.5 450.9L319.7 450.9M316.4 452.5L320.6 452.5" stroke="#d8d8d8" stroke-width="0.55" fill="none" stroke-linecap="butt"/>
<ellipse cx="323.3" cy="441.5" rx="5.0" ry="12.6" fill="#e9e9e9" stroke="#1c1c1c" stroke-width="0.9900000000000001"/>
<ellipse cx="324.0" cy="441.5" rx="3.6" ry="9.4" fill="#e9e9e9" stroke="#1c1c1c" stroke-width="0.77"/>
<path d="M333.0 437.3 L323.0 437.3 A1.4 3.9 0 0 0 323.0 445.1 L333.0 445.1 A1.4 3.9 0 0 0 333.0 437.3Z" fill="#e9e9e9" stroke="#1c1c1c" stroke-width="0.9"/>
<ellipse cx="333.0" cy="441.2" rx="1.4" ry="3.9" fill="#e9e9e9" stroke="#1c1c1c" stroke-width="0.7920000000000001"/>
<ellipse cx="342.4" cy="440.8" rx="3.8" ry="5.8" fill="#454545" stroke="#1c1c1c" stroke-width="0.9900000000000001"/>
<ellipse cx="342.7" cy="440.8" rx="2.4" ry="3.9" fill="#e4e4e4" stroke="#1c1c1c" stroke-width="0.66"/>
<ellipse cx="342.9" cy="440.8" rx="1.1" ry="2.3" fill="#8a8a8a" stroke="#444" stroke-width="0.55"/>
<rect x="353.0" y="425.6" width="9.0" height="2.6" rx="0.8" fill="#d9d9d9" stroke="#333" stroke-width="0.8"/>
<path d="M354.8 437.0 L363.1 437.0 A1.4 4.2 0 0 1 363.1 445.4 L354.8 445.4Z" fill="#e9e9e9" stroke="#1c1c1c" stroke-width="0.9"/>
<path d="M353.4 435.6 A2.0 5.6 0 0 0 353.4 446.8 L354.8 446.8 A2.0 5.6 0 0 0 354.8 435.6Z" fill="#e9e9e9" stroke="#1c1c1c" stroke-width="1.0"/>
<ellipse cx="353.4" cy="441.2" rx="2.0" ry="5.6" fill="#e9e9e9" stroke="#1c1c1c" stroke-width="0.9900000000000001"/>
<ellipse cx="353.6" cy="441.2" rx="1.1" ry="3.2" fill="#bdbdbd" stroke="#1c1c1c" stroke-width="0.8800000000000001"/>
<rect x="251.3" y="257.8" width="8.7" height="2.5" rx="0.8" fill="#d9d9d9" stroke="#333" stroke-width="0.8"/>
</svg>
</body></html>
